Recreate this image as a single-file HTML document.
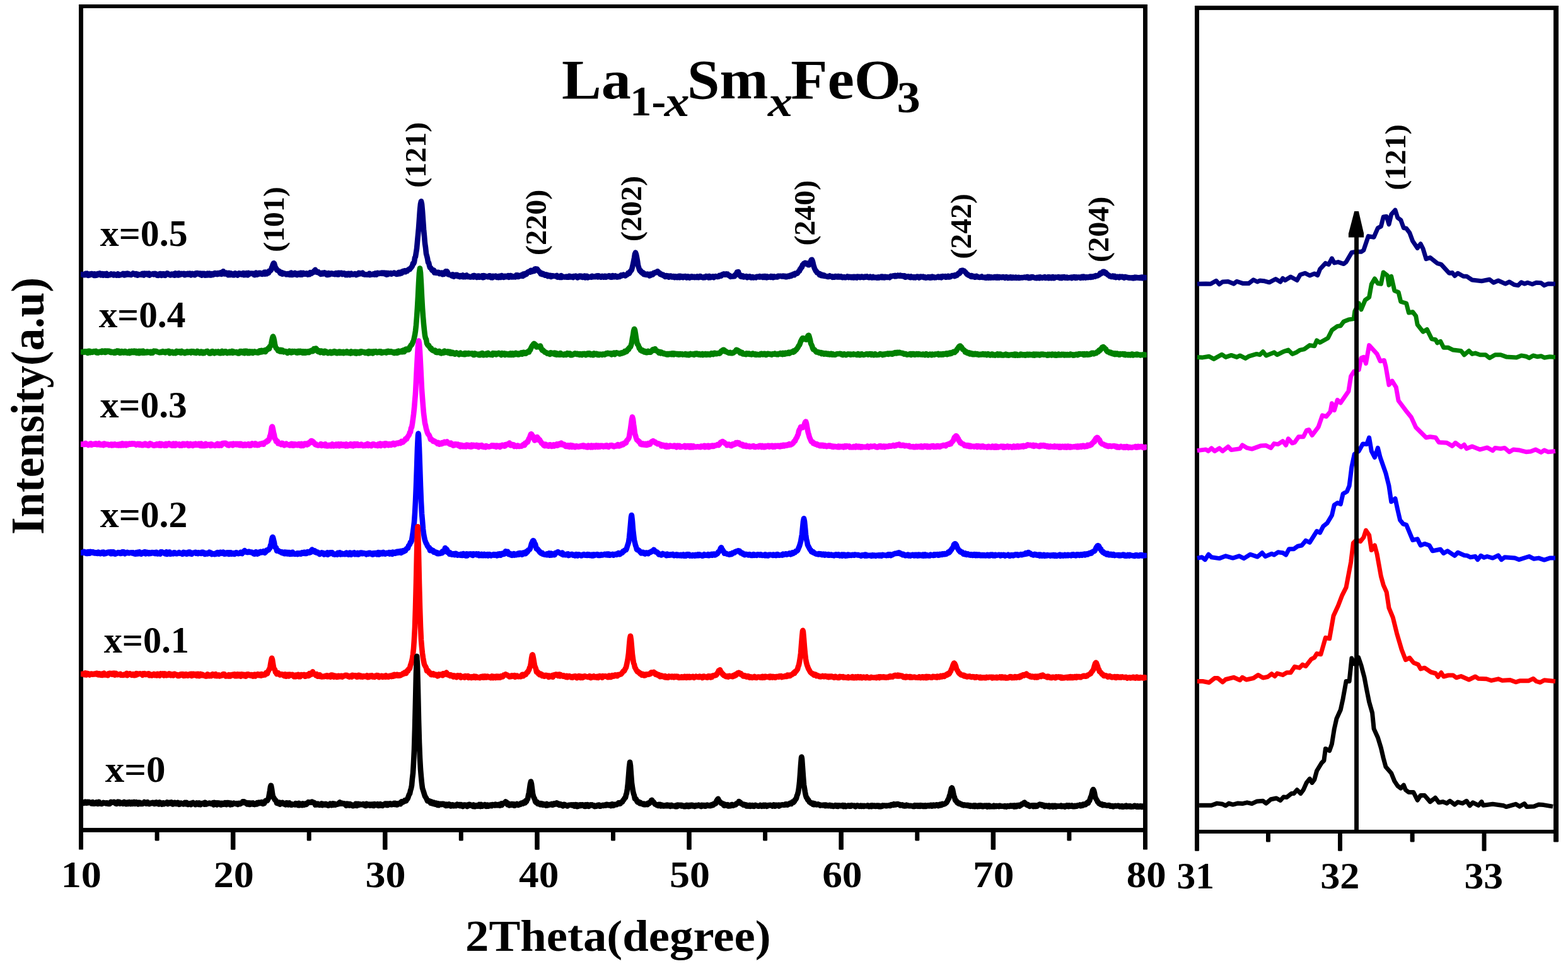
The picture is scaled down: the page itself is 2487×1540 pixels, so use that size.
<!DOCTYPE html>
<html lang="en"><head><meta charset="utf-8"><title>XRD patterns of La1-xSmxFeO3</title>
<style>html,body{margin:0;padding:0;background:#fff;overflow:hidden}svg{display:block}text{font-family:"Liberation Serif","Times New Roman",serif;fill:#000}polyline{fill:none;stroke-linejoin:round;stroke-linecap:butt}</style></head>
<body>
<svg width="2487" height="1540" viewBox="0 0 2487 1540" role="img" aria-label="XRD patterns of La1-xSmxFeO3 for x = 0 to 0.5, with enlarged (121) peak">
<rect width="2487" height="1540" fill="#fff"/>
<g id="axes"><g fill="#000">
<rect x="125" y="7" width="7" height="1340.6" rx="1.2"/>
<rect x="125" y="7" width="7" height="23"/>
<rect x="1813" y="7" width="7" height="1340.6" rx="1.2"/>
<rect x="1813" y="7" width="7" height="23"/>
<rect x="125" y="7" width="1695" height="6"/>
<rect x="125" y="1313" width="1695" height="7"/>
<rect x="245.6" y="1316" width="7" height="17.6" rx="1.5"/>
<rect x="365.9" y="1316" width="7.5" height="31.7" rx="1.5"/>
<rect x="486.7" y="1316" width="7" height="17.6" rx="1.5"/>
<rect x="607" y="1316" width="7.5" height="31.7" rx="1.5"/>
<rect x="727.8" y="1316" width="7" height="17.6" rx="1.5"/>
<rect x="848.2" y="1316" width="7.5" height="31.7" rx="1.5"/>
<rect x="969" y="1316" width="7" height="17.6" rx="1.5"/>
<rect x="1089.3" y="1316" width="7.5" height="31.7" rx="1.5"/>
<rect x="1210.1" y="1316" width="7" height="17.6" rx="1.5"/>
<rect x="1330.4" y="1316" width="7.5" height="31.7" rx="1.5"/>
<rect x="1451.3" y="1316" width="7" height="17.6" rx="1.5"/>
<rect x="1571.6" y="1316" width="7.5" height="31.7" rx="1.5"/>
<rect x="1692.4" y="1316" width="7" height="17.6" rx="1.5"/>
<rect x="1895" y="9" width="7" height="1340.7" rx="1.2"/>
<rect x="1895" y="9" width="7" height="21"/>
<rect x="2464" y="9" width="8" height="1326.4" rx="1.2"/>
<rect x="2464" y="9" width="8" height="21"/>
<rect x="1895" y="9" width="577" height="6.9"/>
<rect x="1895" y="1316" width="577" height="6"/>
<rect x="2008" y="1318" width="7" height="17.4" rx="1.5"/>
<rect x="2122" y="1318" width="7" height="31.8" rx="1.5"/>
<rect x="2236.6" y="1318" width="7" height="17.4" rx="1.5"/>
<rect x="2350.5" y="1318" width="7" height="31.8" rx="1.5"/>
</g></g>
<g id="main-curves">
<polyline points="128,435.3 129,435.3 130,435.3 131,435.3 132,436.1 133,435 134,436.3 135,435.4 136,433.8 137,435.1 138,433.6 139,436.8 140,436.9 141,434.7 142,434.6 143,436.2 144,434.2 145,434.1 146,434.1 147,434.7 148,435.7 149,436.9 150,434.2 151,436.9 152,435.4 153,436.7 154,436.4 155,434 156,435.8 157,433.9 158,433.5 159,434.9 160,436.2 161,435.5 162,434.1 163,436.5 164,436.7 165,434.3 166,435 167,435.7 168,436.7 169,433.9 170,435.4 171,436.9 172,435.6 173,436 174,436.2 175,435.2 176,434.5 177,435.5 178,435.3 179,434.7 180,436.5 181,434.7 182,435.2 183,436.2 184,436.3 185,436.6 186,435.8 187,434.3 188,436.5 189,436.7 190,436 191,436.2 192,435.2 193,435.2 194,435.5 195,433.9 196,435.8 197,436.5 198,434 199,436.1 200,435.9 201,433.8 202,433.6 203,435.5 204,434.2 205,434.5 206,435.6 207,435.7 208,436.1 209,435.4 210,434.6 211,433.4 212,433.8 213,434.1 214,435.3 215,436 216,434.1 217,434.8 218,436.7 219,434.8 220,435.9 221,435.6 222,435.7 223,435.1 224,435.3 225,435.9 226,433.9 227,436.2 228,436.5 229,433.5 230,434.1 231,434.2 232,433.7 233,433.9 234,435.7 235,433.8 236,433.6 237,436.7 238,434.8 239,435.3 240,435 241,434.6 242,435 243,434 244,435.4 245,434.2 246,433.9 247,434.1 248,434.8 249,436.7 250,435.5 251,436.9 252,434.8 253,434.3 254,435.9 255,434 256,436.9 257,434.7 258,434.3 259,434.3 260,434.4 261,436.7 262,436.9 263,435.3 264,434.1 265,433.3 266,433.6 267,434.4 268,435.6 269,435.6 270,436.4 271,436.3 272,434.6 273,435.7 274,434.9 275,435.9 276,434 277,436.8 278,433.4 279,435.5 280,434.6 281,436.2 282,433.8 283,436.5 284,433.3 285,435.9 286,435.8 287,435.1 288,433.9 289,434.6 290,434.9 291,434 292,433.8 293,436.3 294,435.2 295,434.2 296,435.5 297,435.5 298,433.7 299,435.4 300,435.4 301,433.6 302,434.3 303,436.4 304,435.3 305,434 306,434.7 307,434.9 308,435.8 309,436.3 310,433.5 311,433.4 312,434.8 313,433.3 314,433.8 315,433.6 316,433.5 317,435.5 318,433.6 319,435.2 320,436.7 321,433.7 322,435.9 323,435.3 324,433.8 325,436.6 326,435.8 327,434.5 328,436.4 329,433.5 330,436.2 331,436.2 332,433.6 333,436.4 334,436 335,436.4 336,434.1 337,435.8 338,435.9 339,434.3 340,433.2 341,433.1 342,434.8 343,434.9 344,433.4 345,435.1 346,433 347,434.4 348,434.4 349,433.1 350,432.2 351,434.9 352,434.1 353,432.6 354,430.3 355,432.3 356,434.5 357,434.4 358,434.5 359,432.5 360,434.6 361,433.5 362,436.3 363,432.9 364,433.7 365,436.1 366,433.4 367,434 368,434.1 369,436.2 370,435.5 371,436.4 372,433.7 373,433.3 374,434.2 375,435.8 376,435.2 377,436.4 378,435.6 379,433.3 380,434.1 381,433.7 382,434 383,435.4 384,434.6 385,435.7 386,433 387,436.2 388,433.5 389,435.6 390,436 391,433.1 392,434.9 393,436.4 394,432.9 395,434.7 396,434.4 397,434.2 398,433.5 399,433.5 400,433.8 401,433.6 402,433.8 403,436 404,436.1 405,433.6 406,432.7 407,433.6 408,435.7 409,433.2 410,434.9 411,432.8 412,433.6 413,432.9 414,434.5 415,433.5 416,434.9 417,433.8 418,433.3 419,431.8 420,434.6 421,431.5 422,432.9 423,434.4 424,433.4 425,431.4 426,432.9 427,429.9 428,430.2 429,429.1 430,428.1 431,424.4 432,422.1 433,419.1 434,417.4 434.2,417.3 435,418.1 436,421.5 437,424.5 438,425.6 439,428.2 440,428 441,429.4 442,429.6 443,430.2 444,432.5 445,433.7 446,434 447,432 448,434.8 449,432.8 450,434.2 451,434 452,433.7 453,434.5 454,435.3 455,434.7 456,434.1 457,435.4 458,435 459,433.7 460,435.9 461,433.9 462,432.6 463,436 464,435.9 465,434.5 466,435.3 467,435.1 468,432.9 469,435.5 470,434.9 471,436.1 472,434.3 473,433.6 474,435.4 475,434.6 476,435.7 477,432.7 478,435 479,435.8 480,433.2 481,432.8 482,434.2 483,434.8 484,434.7 485,434.2 486,433.5 487,434.7 488,435.6 489,433.8 490,433.2 491,435.1 492,432 493,433.1 494,433.7 495,433 496,432.3 497,431.4 498,430 499,431.4 500,427.9 501,429.8 502,430.4 503,432 504,431.1 505,431.3 506,432.6 507,433.6 508,433.5 509,434.9 510,433.6 511,432.8 512,434.5 513,433.7 514,432.4 515,433.8 516,432.8 517,434.8 518,435.8 519,435.2 520,436 521,433.1 522,435.6 523,435.4 524,433.5 525,434.4 526,433.3 527,433.8 528,434.6 529,434.1 530,434.1 531,435.3 532,435.1 533,433.1 534,434.8 535,435.5 536,432.8 537,435.4 538,432.8 539,434.3 540,434.1 541,432.8 542,433 543,435.1 544,433.7 545,434.6 546,433.3 547,434.9 548,436.1 549,435.4 550,434 551,436.2 552,434 553,433.7 554,434.2 555,436.2 556,434.1 557,433.7 558,434.6 559,435 560,435.4 561,435.2 562,435.1 563,434.1 564,434.2 565,436.2 566,434.4 567,435.4 568,433.9 569,432.7 570,434 571,434.5 572,434 573,433.3 574,433.2 575,432.8 576,435.1 577,434.5 578,435.5 579,435.6 580,435.2 581,435.4 582,435.8 583,435.8 584,435.4 585,435.7 586,433.7 587,436 588,435.6 589,435.3 590,435.5 591,435.1 592,434.4 593,434.2 594,435.7 595,433.4 596,434.6 597,435.6 598,433.2 599,432.8 600,433.3 601,433.8 602,434 603,433.1 604,433.1 605,432.7 606,433.9 607,432.7 608,433.4 609,432.8 610,434.4 611,434.4 612,432.9 613,435.7 614,433.1 615,435.3 616,433.1 617,434 618,434.1 619,434 620,433.1 621,434.7 622,434 623,433.7 624,433.4 625,432.6 626,433 627,434.1 628,433.9 629,434.9 630,433.8 631,434.7 632,432.2 633,431.9 634,434.3 635,432.1 636,432.5 637,433.4 638,430.5 639,430.2 640,431.2 641,430 642,429.3 643,431.3 644,430.3 645,429.6 646,429.8 647,428 648,427.7 649,426.8 650,427.1 651,425.4 652,424.7 653,423.2 654,421.6 655,417.8 656,418.1 657,415.6 658,409 659,407 660,400.8 661,394.5 662,383.3 663,372.7 664,361.9 665,347.9 666,333.2 667,323.5 668,319.3 669,323.7 670,334.6 671,348.8 672,363.4 673,374.1 674,386 675,392.6 676,402.3 677,405.9 678,409.9 679,416.1 680,416.6 681,421.2 682,424.4 683,424.6 684,426.1 685,428.1 686,429.1 687,429.2 688,428.4 689,432.5 690,432.1 691,431.8 692,433 693,431.9 694,432.2 695,431.8 696,433.4 697,434.2 698,432.7 699,433.2 700,434 701,432.5 702,435.3 703,432.7 704,435 705,433.3 706,431.7 707,430.2 708,432 709,430.4 710,432.2 711,435.4 712,435.6 713,435.8 714,435.9 715,436.4 716,437.1 717,437.8 718,435.3 719,438.3 720,438.7 721,437.4 722,436.6 723,435.7 724,436.8 725,435.8 726,438.2 727,437.9 728,438.5 729,439 730,437.1 731,438.7 732,438.7 733,438.1 734,436.4 735,439.3 736,438.2 737,437.9 738,439.3 739,436.8 740,436.5 741,438.8 742,439 743,438.4 744,438.5 745,439.3 746,439.5 747,438.9 748,439.2 749,438.4 750,437.3 751,439.5 752,436.9 753,437.3 754,438.7 755,438.1 756,439.9 757,437.9 758,438.5 759,437.5 760,439.8 761,438.1 762,439.4 763,439.4 764,438.5 765,437.3 766,440.3 767,437.1 768,439.8 769,437.5 770,438.4 771,438.5 772,438.4 773,439 774,439.3 775,439.3 776,437.2 777,438.2 778,437.6 779,440.3 780,438.8 781,440.4 782,437.7 783,439.3 784,438.7 785,438.1 786,437.6 787,439 788,440 789,438.6 790,438.7 791,440.2 792,437.8 793,438.1 794,439.9 795,437.2 796,437 797,439.2 798,438.5 799,439.9 800,438.8 801,437.8 802,439.1 803,438.3 804,438.9 805,437.5 806,437 807,439.8 808,439.6 809,437.2 810,437 811,439.4 812,439 813,438.1 814,439.4 815,439.2 816,439.2 817,439.4 818,439 819,436.2 820,438.3 821,436.4 822,438.9 823,438.6 824,437.7 825,437 826,437.7 827,436.2 828,437.3 829,438 830,434.6 831,435.5 832,436.4 833,433.9 834,434 835,434.9 836,433.4 837,431.7 838,431.4 839,430.6 840,430.4 841,431.6 842,428.9 843,429 844,430.8 845,429.3 846,429.6 847,429.9 848,426.8 849,426.4 850,426.5 851,426.5 851.5,426.7 852,426.8 853,428.1 854,430 855,430.5 856,431.2 857,433 858,434.5 859,433.1 860,435.2 861,433.7 862,435 863,435.8 864,436.5 865,435.4 866,436.3 867,435.7 868,436.6 869,438.2 870,436.5 871,436.9 872,437.9 873,436.7 874,439 875,437.3 876,437.3 877,437.4 878,437.9 879,438 880,437.9 881,438 882,437.3 883,437 884,439.6 885,439.5 886,439.3 887,438.5 888,440 889,437.4 890,437.2 891,440 892,438.8 893,438.8 894,438.7 895,439.4 896,439.2 897,439.5 898,438.8 899,439.7 900,439.3 901,439.8 902,439.7 903,437.7 904,438.7 905,439.4 906,439.5 907,438.7 908,439.2 909,440.1 910,438 911,438.2 912,438.3 913,437.8 914,439.2 915,439.2 916,440.4 917,439 918,438.1 919,437.7 920,439.3 921,437.9 922,437.8 923,438.9 924,439.9 925,438.3 926,438.3 927,437.6 928,440.4 929,439.9 930,439.1 931,437.7 932,440.4 933,439.3 934,439.6 935,439.5 936,439.1 937,438.7 938,439.8 939,437.7 940,438.3 941,439.1 942,438.8 943,439 944,439.1 945,437.8 946,437.9 947,437.4 948,439.4 949,439.3 950,437.5 951,438 952,438.4 953,439.8 954,439.6 955,437.9 956,438.7 957,439.1 958,439.7 959,437.9 960,437.9 961,439.6 962,439.3 963,438.1 964,438 965,438.5 966,437.3 967,439 968,439.5 969,437.7 970,439.7 971,439.5 972,437.1 973,439.2 974,439.2 975,438.6 976,437.5 977,438.2 978,439.5 979,438.4 980,439.4 981,438.8 982,438.1 983,438.7 984,437.5 985,436.4 986,437.5 987,436.3 988,436.4 989,435.5 990,436.6 991,437 992,437.4 993,436.3 994,435.8 995,435.4 996,433.3 997,433.7 998,433.7 999,431.9 1000,429.9 1001,429.2 1002,427.6 1003,423.4 1004,419.1 1005,414.5 1006,409.2 1007,402.9 1008,400.6 1009,403.4 1010,408.2 1011,413.7 1012,420.7 1013,424 1014,427.4 1015,429.6 1016,429.1 1017,431.9 1018,431.6 1019,433.5 1020,432.4 1021,435 1022,433.8 1023,435.5 1024,435.2 1025,436 1026,435.5 1027,434.6 1028,435.4 1029,435.3 1030,437.5 1031,434.7 1032,436.6 1033,434.6 1034,434.9 1035,435.6 1036,434.8 1037,432.7 1038,432.8 1039,432.1 1040,432.5 1041,431.7 1042,431.4 1043,430.4 1044,432.2 1045,433 1046,432.9 1047,434.9 1048,434.3 1049,435.6 1050,435.3 1051,436.4 1052,435.9 1053,437.5 1054,437.8 1055,439 1056,437.4 1057,437 1058,437.9 1059,438.9 1060,437.6 1061,439.7 1062,437.8 1063,439 1064,437.5 1065,438.9 1066,439.5 1067,438.8 1068,438.2 1069,439 1070,440.2 1071,438.2 1072,439.6 1073,439.1 1074,440.3 1075,438.4 1076,440 1077,437.7 1078,440.3 1079,437.8 1080,438.6 1081,438.3 1082,438.5 1083,440.2 1084,438.3 1085,439.4 1086,439.4 1087,438 1088,439.9 1089,440.4 1090,439.2 1091,438.4 1092,438.7 1093,439.4 1094,440.5 1095,439.9 1096,438.6 1097,438.3 1098,439.9 1099,439.2 1100,438.8 1101,440.1 1102,438.7 1103,439.9 1104,440 1105,440 1106,438.6 1107,439.2 1108,440.3 1109,438.7 1110,438.1 1111,438.1 1112,439.6 1113,439.2 1114,439.8 1115,440.4 1116,439.4 1117,439 1118,440.2 1119,439.7 1120,438 1121,438.6 1122,439.4 1123,438.4 1124,440.4 1125,437.9 1126,440.1 1127,440.2 1128,438.7 1129,438.7 1130,439.2 1131,438.3 1132,440.2 1133,439.2 1134,438.8 1135,438.1 1136,438.8 1137,438.8 1138,439 1139,438.8 1140,438.7 1141,436.8 1142,437.5 1143,437 1144,437.6 1145,435.7 1146,435.4 1147,434.8 1148,434.4 1149,435.6 1150,435.3 1151,435.7 1152,434.4 1153,435.1 1154,434.7 1155,436.6 1156,436.6 1157,436.7 1158,438.3 1159,438.8 1160,438.1 1161,438.4 1162,438.2 1163,438.5 1164,437.7 1165,438.3 1166,435.8 1167,436 1168,434 1169,431.6 1170,431.5 1171,431 1172,435.3 1173,436.6 1174,436 1175,438.6 1176,437.6 1177,438.9 1178,437.4 1179,439.4 1180,439.4 1181,438.6 1182,438.6 1183,439 1184,438.1 1185,440.3 1186,439.1 1187,439.4 1188,439.3 1189,438.3 1190,439.7 1191,440.3 1192,440.4 1193,439.1 1194,439.1 1195,440.4 1196,440 1197,439.7 1198,439.7 1199,440.2 1200,438.8 1201,438.9 1202,438.8 1203,438.5 1204,439.5 1205,438 1206,439.5 1207,438.7 1208,439 1209,438.4 1210,440 1211,438.5 1212,438.1 1213,439.9 1214,438.1 1215,438.7 1216,440.4 1217,438.4 1218,439.2 1219,439.6 1220,439.3 1221,439.2 1222,439.7 1223,438 1224,438.6 1225,438.3 1226,440.2 1227,440 1228,438.3 1229,439.1 1230,439.5 1231,439 1232,439.5 1233,439.5 1234,437.7 1235,437.8 1236,438.1 1237,438 1238,437.7 1239,438.1 1240,438.4 1241,438.3 1242,437.6 1243,438.5 1244,438.6 1245,437.7 1246,439.2 1247,438.4 1248,439 1249,437.8 1250,438.3 1251,437.8 1252,438.3 1253,436.7 1254,436.8 1255,437.8 1256,435.9 1257,436.1 1258,435.4 1259,434.5 1260,436.3 1261,433.6 1262,434.3 1263,433.7 1264,433.8 1265,433.2 1266,431.7 1267,430.1 1268,429.8 1269,426.8 1270,426.3 1271,423.9 1272,423.6 1273,419.9 1274,419.7 1275,417.8 1276,418.7 1277,416.8 1278,418.4 1279,417.4 1280,418.6 1281,419.4 1282,420.3 1283,420.3 1284,418.5 1285,415.8 1286,414 1287,412 1287.7,411.9 1288,412.2 1289,415 1290,419.3 1291,423.1 1292,425.8 1293,427.8 1294,430 1295,430.2 1296,432.8 1297,432.7 1298,433.5 1299,433.5 1300,436.1 1301,435.4 1302,434.8 1303,437.3 1304,437.2 1305,437.5 1306,436.2 1307,436.6 1308,438 1309,437.7 1310,438.2 1311,438.3 1312,438.4 1313,439 1314,439 1315,438.6 1316,437.6 1317,438.5 1318,438.5 1319,438.4 1320,439.6 1321,438.8 1322,439.6 1323,439.7 1324,439.5 1325,438 1326,439.2 1327,438.7 1328,439.5 1329,438.2 1330,438 1331,439.5 1332,439.5 1333,439.5 1334,438.3 1335,439.6 1336,440.1 1337,440.1 1338,439.4 1339,439 1340,440.2 1341,440.3 1342,440 1343,439.3 1344,438.5 1345,439.2 1346,440 1347,438.8 1348,439.1 1349,439.1 1350,440.1 1351,439.1 1352,439.6 1353,439 1354,440.5 1355,438.8 1356,440.3 1357,439.3 1358,440 1359,440.5 1360,438.6 1361,438.9 1362,438.9 1363,438.9 1364,440.1 1365,439.1 1366,439.7 1367,438.8 1368,439.6 1369,439.1 1370,440.1 1371,439.3 1372,438.7 1373,439.6 1374,439 1375,438.5 1376,439.5 1377,439.9 1378,440.2 1379,440.1 1380,438.6 1381,439.4 1382,439.2 1383,440.4 1384,440 1385,439 1386,439.8 1387,440.3 1388,440 1389,439.9 1390,439.8 1391,440.7 1392,440.5 1393,439.4 1394,440.6 1395,440.4 1396,439.3 1397,439.4 1398,438.5 1399,440.3 1400,438.6 1401,439.1 1402,440.4 1403,440.4 1404,438.8 1405,439.5 1406,439 1407,439.8 1408,439.3 1409,439.6 1410,439.6 1411,440.2 1412,438.7 1413,437.9 1414,438.4 1415,437.7 1416,437.7 1417,437.4 1418,437.7 1419,438.3 1420,437 1421,437.5 1422,438.1 1423,437.3 1424,436.7 1425,437.4 1426,437.7 1427,437.8 1428,436.8 1429,437.7 1430,437.9 1431,437.3 1432,437.2 1433,438.5 1434,437.3 1435,437.5 1436,439.8 1437,438.9 1438,438.7 1439,439 1440,438.4 1441,438.4 1442,439 1443,439.8 1444,440.1 1445,438.4 1446,439.1 1447,440 1448,439.5 1449,440.4 1450,439.3 1451,439.9 1452,440.4 1453,439.6 1454,438.7 1455,438.6 1456,438.8 1457,439.8 1458,440.6 1459,438.9 1460,439.5 1461,438.6 1462,439.1 1463,439.1 1464,438.6 1465,440.1 1466,440.3 1467,439.3 1468,440.6 1469,440.6 1470,440.4 1471,439.9 1472,439.2 1473,440.3 1474,439.3 1475,440.7 1476,440.5 1477,439.1 1478,440.5 1479,438.7 1480,439.1 1481,439.3 1482,440.4 1483,440.1 1484,439.9 1485,440.1 1486,439.5 1487,439 1488,438.7 1489,440 1490,439.2 1491,439.2 1492,438.7 1493,440.4 1494,438.6 1495,438.2 1496,438.9 1497,438.6 1498,438.7 1499,438.2 1500,439.8 1501,438.9 1502,439.5 1503,439.2 1504,437.8 1505,439.5 1506,438.2 1507,439.2 1508,438.2 1509,437.9 1510,437.1 1511,437.1 1512,437 1513,437.6 1514,438.1 1515,436.1 1516,437.5 1517,435.9 1518,436.6 1519,434.7 1520,433.7 1521,432.9 1522,433.5 1523,432.2 1524,429.3 1525,429.3 1526,428.8 1526.5,428.7 1527,428.8 1528,429.5 1529,429.5 1530,430.6 1531,431.5 1532,432.6 1533,434.1 1534,435.1 1535,435.1 1536,436.6 1537,436.8 1538,437.1 1539,437.9 1540,438.7 1541,437 1542,439 1543,437.7 1544,438.7 1545,438.3 1546,439.6 1547,439.7 1548,438 1549,437.9 1550,439.1 1551,438.8 1552,439.6 1553,439.6 1554,440 1555,439.7 1556,439.7 1557,438.4 1558,439.4 1559,440 1560,439.8 1561,440.1 1562,439.7 1563,440.6 1564,440 1565,440.6 1566,440.5 1567,438.7 1568,440.6 1569,438.9 1570,440 1571,440.6 1572,439.3 1573,440.1 1574,439.9 1575,440.5 1576,440.5 1577,439.2 1578,439 1579,440.5 1580,439 1581,440.7 1582,438.8 1583,440 1584,440.6 1585,439 1586,439.8 1587,440 1588,439.6 1589,440.1 1590,439.3 1591,439 1592,439.3 1593,440.5 1594,440.8 1595,439.5 1596,439 1597,439.7 1598,440.3 1599,441.1 1600,439.7 1601,439.9 1602,440.7 1603,439.2 1604,441 1605,441 1606,440.8 1607,439.8 1608,440.6 1609,440.4 1610,440.7 1611,439.6 1612,440.9 1613,440.6 1614,440 1615,440.7 1616,439.8 1617,440.9 1618,440.8 1619,440.4 1620,440.3 1621,440 1622,440.4 1623,440.1 1624,439.9 1625,439.5 1626,440.2 1627,440.2 1628,440 1629,439 1630,439.1 1631,441 1632,441.1 1633,439.7 1634,440.9 1635,440.6 1636,439.3 1637,439.9 1638,439.2 1639,439.8 1640,440.4 1641,440.6 1642,440.9 1643,440.4 1644,441.2 1645,439.9 1646,440.3 1647,440.9 1648,439.6 1649,441.2 1650,439.3 1651,440.5 1652,440.2 1653,440.8 1654,440 1655,439.7 1656,440.2 1657,439.1 1658,441 1659,440.8 1660,440.7 1661,440.1 1662,439.4 1663,441.2 1664,439.2 1665,440.9 1666,440.4 1667,439.8 1668,441.1 1669,440.4 1670,439.1 1671,441.1 1672,441.1 1673,440.5 1674,439.6 1675,439.6 1676,439.8 1677,439.5 1678,439.9 1679,439.2 1680,440.4 1681,440.9 1682,439.7 1683,439.5 1684,441.1 1685,439.3 1686,439.9 1687,440 1688,439.1 1689,440.6 1690,440.4 1691,440.7 1692,439.6 1693,440.9 1694,440.4 1695,440.6 1696,440.1 1697,440.4 1698,440 1699,439.7 1700,441.2 1701,439.5 1702,439.5 1703,439.3 1704,439 1705,439.5 1706,441 1707,439.4 1708,440.7 1709,440.2 1710,439.6 1711,439.6 1712,440.1 1713,439.6 1714,441 1715,440.1 1716,438.8 1717,439 1718,440.6 1719,438.7 1720,438.9 1721,439.5 1722,440.6 1723,439.2 1724,439.2 1725,440.1 1726,439.8 1727,440 1728,438.9 1729,438.6 1730,439.9 1731,438.5 1732,439.4 1733,439.5 1734,438.3 1735,438.6 1736,437.8 1737,438.4 1738,437 1739,437.3 1740,437.5 1741,437.3 1742,436.6 1743,436.1 1744,435.5 1745,433.4 1746,434.2 1747,433.7 1748,431.9 1749,431.2 1750,430.7 1751,430.8 1752,431.4 1753,433.5 1754,432.4 1755,434.2 1756,434.7 1757,435.8 1758,436.2 1759,436.8 1760,438.1 1761,438.1 1762,438.4 1763,439 1764,438.6 1765,437.6 1766,438.8 1767,439.3 1768,437.9 1769,438.6 1770,440 1771,439.4 1772,438.7 1773,439 1774,439.5 1775,440.4 1776,438.6 1777,439.6 1778,439 1779,438.9 1780,438.7 1781,439.8 1782,439.6 1783,440.6 1784,439 1785,439.1 1786,439.4 1787,439.9 1788,439.8 1789,440.2 1790,440.6 1791,440.8 1792,440.3 1793,440.6 1794,440.8 1795,440.4 1796,441.1 1797,440.4 1798,441.2 1799,440.1 1800,439.6 1801,441 1802,440 1803,439.9 1804,440.3 1805,440.6 1806,440.2 1807,440.8 1808,440.1 1809,441 1810,439.7 1811,439.6 1812,441.3 1813,439.9 1814,439.8 1815,440.2 1816,440.3 1817,440.3 1818,440.3 1819,440.3" stroke="#000080" stroke-width="8.6"/>
<polyline points="128,558.2 129,558.2 130,558.2 131,558.2 132,558.1 133,558.8 134,557.2 135,557.2 136,557.4 137,558.9 138,557.2 139,559.9 140,556.7 141,557.1 142,556.7 143,559.2 144,557.7 145,558.1 146,557.6 147,558.7 148,557.9 149,557.2 150,558 151,557.5 152,556.8 153,559.4 154,558.9 155,558.8 156,559.6 157,557.9 158,557.8 159,558 160,557.9 161,558.9 162,556.5 163,558.1 164,558.4 165,557.7 166,556.5 167,559 168,556.5 169,558.5 170,557 171,556.6 172,557.1 173,556.7 174,557 175,558.9 176,559.1 177,557.8 178,558.8 179,558.2 180,558.3 181,559.7 182,557.6 183,559.6 184,559 185,559 186,556.5 187,556.8 188,556.6 189,557.8 190,559.9 191,559.7 192,559.5 193,557 194,559.1 195,559.3 196,559.4 197,559.4 198,557 199,557.2 200,559.4 201,559.2 202,559.8 203,558.2 204,559.8 205,557.1 206,560 207,559.7 208,557.8 209,556.8 210,558.5 211,559 212,557.8 213,556.8 214,557.6 215,559.5 216,556.9 217,560 218,557.5 219,557.3 220,557 221,560.1 222,559.8 223,557.7 224,556.9 225,558.9 226,559.8 227,556.6 228,558.9 229,559.7 230,558.3 231,558.7 232,559.5 233,557.5 234,557.6 235,559 236,558.6 237,558.5 238,557.8 239,560 240,557.7 241,559.1 242,559.8 243,558.1 244,556.8 245,557.4 246,556.9 247,557.2 248,557.1 249,557.9 250,558 251,558.3 252,559 253,559.1 254,559.1 255,558 256,559 257,558.6 258,557.1 259,558.6 260,557.8 261,559.1 262,559.3 263,557.5 264,558.2 265,558.3 266,557.7 267,556.8 268,556.9 269,560.3 270,559.4 271,558.3 272,559.1 273,557.7 274,559.3 275,560.1 276,559.5 277,558.4 278,560.2 279,560 280,556.9 281,558.2 282,558.3 283,557.7 284,558.9 285,557.2 286,559.4 287,559.8 288,556.9 289,559.2 290,557.7 291,559 292,559.2 293,560.2 294,559.6 295,558 296,559.4 297,557.3 298,559.3 299,558.2 300,557.7 301,557.6 302,557.5 303,559.6 304,557.1 305,557.6 306,557.4 307,557.3 308,559.4 309,558.9 310,559.2 311,560 312,558.4 313,556.9 314,557.4 315,558.6 316,559.3 317,560.1 318,558.6 319,557.6 320,558.9 321,560.1 322,558 323,560.1 324,560 325,558.9 326,558.5 327,557.3 328,557.2 329,556.9 330,559 331,559.4 332,560.4 333,559 334,560.4 335,558.2 336,557.3 337,557 338,557.8 339,558.7 340,560.4 341,557.9 342,557.7 343,559.4 344,558.2 345,558.8 346,557.4 347,559.9 348,560.1 349,559.5 350,560.2 351,558 352,556.9 353,557.9 354,560 355,558.5 356,557.5 357,557.4 358,557.4 359,558.4 360,560.1 361,560 362,559.5 363,559.5 364,557.5 365,559.6 366,557.6 367,558.7 368,556.9 369,560 370,557.3 371,558.9 372,559.2 373,559.1 374,559.3 375,558.1 376,559.6 377,560.2 378,559 379,560.3 380,559.8 381,557 382,559.2 383,557.1 384,559.1 385,558.1 386,559.8 387,556.9 388,560.1 389,556.9 390,556.9 391,556.7 392,557.1 393,560.2 394,559.7 395,560 396,557.3 397,559.1 398,559.5 399,559.2 400,557.5 401,560 402,559.1 403,559 404,557.5 405,557.9 406,559.1 407,558.2 408,558.1 409,559.6 410,557.7 411,559.2 412,556.2 413,557.9 414,558.4 415,555.8 416,558.1 417,556.5 418,557.6 419,557.4 420,555.4 421,558 422,555.1 423,554.3 424,554.9 425,552.8 426,552.1 427,553.3 428,549.4 429,548.8 430,546.8 431,540.9 432,536.3 433,533.6 434,535.8 435,540.3 436,546.5 437,550 438,552.1 439,553.2 440,553.6 441,556.1 442,556 443,556.6 444,557.5 445,554.8 446,557.6 447,557.2 448,555.4 449,556.4 450,558.2 451,557.7 452,557.9 453,557 454,558.1 455,559.3 456,559.8 457,558.3 458,559 459,556.7 460,556.9 461,558.5 462,559.5 463,557 464,557.1 465,558.4 466,557.7 467,557.1 468,557.2 469,558.2 470,559.5 471,557.3 472,559.6 473,556.9 474,557.6 475,559.1 476,556.7 477,557.8 478,557.2 479,557.5 480,559.8 481,557.2 482,559.2 483,559.8 484,557.4 485,559.6 486,557.5 487,559.1 488,558.3 489,557.4 490,559.1 491,558.3 492,556.7 493,557.3 494,555.9 495,555.4 496,557.1 497,556.6 498,553.1 499,555.4 500,554.7 501,552.5 502,553.4 503,555.2 504,557.4 505,557.9 506,556.1 507,557.1 508,559.1 509,556.7 510,556.5 511,557.8 512,558.8 513,559.6 514,559.7 515,556.7 516,557.3 517,557.2 518,558.9 519,558.3 520,560.2 521,559.1 522,559.1 523,559.4 524,557.7 525,560.2 526,560.1 527,559.9 528,559.8 529,557.6 530,557.2 531,558.3 532,559.6 533,557.7 534,560.2 535,560.1 536,559.6 537,558.8 538,557.6 539,560 540,557.7 541,558.9 542,559.8 543,559.4 544,557.9 545,560.2 546,558.2 547,558.6 548,558.7 549,559.6 550,557.2 551,559.4 552,558.9 553,560 554,558.4 555,559.2 556,560.6 557,557.3 558,559.9 559,558.8 560,558.2 561,558.1 562,557.9 563,560.1 564,557.8 565,560.6 566,559 567,558.1 568,559.9 569,559.2 570,560.3 571,557.6 572,559.6 573,557.2 574,557.7 575,558.6 576,558.2 577,558.1 578,559.1 579,559.7 580,558.5 581,558.9 582,559.9 583,557.8 584,560.6 585,557.1 586,558.3 587,560 588,557.8 589,558.2 590,557.6 591,560.5 592,560.1 593,557.2 594,558.9 595,557.5 596,557 597,557.7 598,559.4 599,558.8 600,557.9 601,559 602,557.2 603,558.1 604,557.2 605,559.9 606,558.3 607,559.5 608,558.1 609,558.4 610,558.9 611,557.8 612,558.8 613,559.6 614,557.1 615,557.5 616,556.9 617,558.6 618,557.2 619,558.6 620,557.3 621,558.6 622,557.7 623,559.3 624,559.5 625,560 626,558.2 627,559.6 628,559.5 629,557.5 630,559.8 631,559.6 632,556.6 633,558.6 634,558.3 635,557.9 636,558.1 637,556.4 638,558.2 639,557.6 640,555.4 641,558 642,556.8 643,554.1 644,553.6 645,553.6 646,554.9 647,554.5 648,554.6 649,553.6 650,550.2 651,549 652,547.3 653,546.7 654,544.8 655,542.1 656,540.6 657,535.8 658,531.3 659,524.8 660,515.7 661,503.2 662,487.8 663,469.8 664,449.4 665,432.6 666,425.5 667,432.6 668,449.2 669,470.1 670,488.2 671,502 672,513.6 673,523.7 674,532.2 675,536.5 676,538.2 677,544.5 678,546.4 679,548 680,547.6 681,550.1 682,551.3 683,552.9 684,552.4 685,555 686,555.5 687,556.2 688,556.1 689,556.8 690,555.6 691,558.5 692,558.9 693,559.1 694,559 695,557.3 696,557.7 697,556.9 698,559.7 699,560.1 700,560.4 701,559.1 702,559.8 703,559.8 704,557 705,556.5 706,559 707,559 708,558 709,557.9 710,557.5 711,559.7 712,558.2 713,557.7 714,560.7 715,558.3 716,560.8 717,560.7 718,558.9 719,560.2 720,559.7 721,561.7 722,561.6 723,560.1 724,559.5 725,560.3 726,560.6 727,561.3 728,562.5 729,560.3 730,559.8 731,561.5 732,560.8 733,561.9 734,561.7 735,561.3 736,562.3 737,560.1 738,562.2 739,560.1 740,561.2 741,561.5 742,561.5 743,560 744,561.2 745,560.6 746,560.6 747,561.1 748,561.1 749,560.4 750,562.1 751,563 752,563 753,560.4 754,560.6 755,561.2 756,561.8 757,562.2 758,561.8 759,561.5 760,563.3 761,563.2 762,562.6 763,560.7 764,562.5 765,560 766,563.1 767,562.3 768,563.1 769,561.3 770,562.3 771,560.7 772,563.1 773,560.5 774,559.9 775,560.9 776,562.2 777,561.7 778,562.7 779,562.2 780,562.6 781,563.1 782,560.1 783,560.3 784,560.9 785,560.4 786,561.8 787,562.3 788,560.5 789,561.6 790,560.7 791,559.9 792,560.8 793,560.8 794,562.2 795,563.1 796,560.1 797,561.5 798,561.4 799,562 800,560.3 801,563 802,560.7 803,561.8 804,561.2 805,561.7 806,562.7 807,561.8 808,560.9 809,562.9 810,560.3 811,562.9 812,561.9 813,560.4 814,562.9 815,562.5 816,561.2 817,562.2 818,559.8 819,560.3 820,560.9 821,562.4 822,560.5 823,562.5 824,561 825,561.4 826,561.5 827,559.3 828,561.7 829,560.5 830,558.8 831,558.7 832,560.7 833,559.7 834,560.6 835,560.1 836,558.7 837,557.8 838,558.4 839,558.5 840,555.4 841,555.1 842,552.5 843,550.6 844,548.6 845,547.6 846,546 847,544.9 848,545.5 849,547.4 850,547.4 851,550.5 852,549.3 853,549.5 854,549.6 855,550.5 856,548.9 857,548.6 858,551.3 859,553.7 860,555.6 861,555.1 862,556.5 863,556.9 864,558.6 865,558.6 866,558.7 867,559.7 868,560.7 869,560.5 870,561 871,560.1 872,561.9 873,559.4 874,559.4 875,559.6 876,560.9 877,560.4 878,560.1 879,559.6 880,562.1 881,559.8 882,561.7 883,562.8 884,560.6 885,561.7 886,562.6 887,561.2 888,562.8 889,560 890,561.7 891,562.4 892,561.5 893,562.6 894,563.1 895,562.7 896,561.5 897,562.2 898,562.8 899,562 900,560.2 901,560.7 902,562 903,560.5 904,560.6 905,563.2 906,561.7 907,563.2 908,562.8 909,562.6 910,561.5 911,560.9 912,560.4 913,560.9 914,561.7 915,562.1 916,560.7 917,561.6 918,561.3 919,562.9 920,561.1 921,562.8 922,562.2 923,563.1 924,561.1 925,561.1 926,561.7 927,561 928,562.1 929,563.2 930,561.9 931,560.8 932,560.4 933,562.2 934,561.6 935,560.2 936,561.3 937,562.7 938,562.1 939,561.2 940,563.1 941,563.2 942,560.3 943,560.9 944,562 945,561.2 946,560.8 947,562.6 948,562.9 949,561.6 950,563.1 951,561.9 952,562 953,561.7 954,562.5 955,562.8 956,561.6 957,561.5 958,562.4 959,562.6 960,562 961,560.5 962,560.3 963,561 964,560 965,560.9 966,560.9 967,560.2 968,560.2 969,561.7 970,562.4 971,560.3 972,561.8 973,560.8 974,559.5 975,562.2 976,559.7 977,560.7 978,559.3 979,560 980,560.1 981,560.1 982,560.4 983,561.5 984,560.3 985,559.7 986,560.6 987,559.3 988,559.8 989,558.7 990,559.3 991,557 992,556.8 993,557.9 994,557.4 995,555.6 996,553.8 997,554.4 998,551.7 999,550.9 1000,550 1001,547.2 1002,543.6 1003,536.6 1004,532 1005,525 1006,521.9 1006.2,521.7 1007,523.6 1008,529.4 1009,536.3 1010,541.5 1011,546.1 1012,546.7 1013,549 1014,552.6 1015,552.3 1016,555.3 1017,555.1 1018,556.7 1019,555.4 1020,557.2 1021,558 1022,558.4 1023,557 1024,557.4 1025,559.2 1026,559.1 1027,558.3 1028,556.8 1029,558.7 1030,558.6 1031,558 1032,558.5 1033,557 1034,556.9 1035,554.6 1036,554.1 1037,555.6 1038,555.5 1039,553.2 1040,555.3 1041,556.2 1042,556.8 1043,556.9 1044,557.5 1045,559.7 1046,557.9 1047,558.2 1048,560.4 1049,558.6 1050,559.9 1051,560.5 1052,561 1053,560 1054,561.2 1055,561.4 1056,561.9 1057,561 1058,562.4 1059,561.1 1060,562.4 1061,561.1 1062,562 1063,560.9 1064,561.8 1065,562.2 1066,560.3 1067,562.3 1068,560.4 1069,562.4 1070,560.7 1071,561 1072,561.2 1073,561.1 1074,562 1075,561.3 1076,562.6 1077,561.4 1078,562.5 1079,561.3 1080,561.9 1081,562.1 1082,561.4 1083,562.6 1084,562.2 1085,562 1086,562.3 1087,561.1 1088,561.4 1089,562.9 1090,562.4 1091,561.8 1092,563.2 1093,563.1 1094,562.5 1095,560.9 1096,561.6 1097,561.6 1098,562.1 1099,561.4 1100,561.8 1101,562.9 1102,560.9 1103,560.8 1104,562 1105,560.6 1106,561.5 1107,561.2 1108,562.6 1109,561.1 1110,562 1111,562.9 1112,562.3 1113,561.6 1114,561 1115,563 1116,562.6 1117,562.3 1118,561.2 1119,561.1 1120,562.8 1121,562.6 1122,562.6 1123,561.2 1124,562.3 1125,562.5 1126,562.7 1127,562.1 1128,560.4 1129,560.3 1130,560.9 1131,562.1 1132,560.9 1133,560 1134,561 1135,560.1 1136,560.6 1137,561.2 1138,560.4 1139,560.2 1140,559.8 1141,560.6 1142,560.1 1143,558.4 1144,556.8 1145,557.6 1146,555.6 1147,554.8 1148,554.8 1149,555.8 1150,557.3 1151,556.9 1152,558.2 1153,558.2 1154,559.1 1155,559 1156,559.8 1157,559.1 1158,558.9 1159,560.3 1160,560.3 1161,560.2 1162,559.6 1163,559.6 1164,558.6 1165,558.2 1166,557.6 1167,556.2 1168,554.7 1169,556.6 1170,556.9 1171,556.1 1172,557.2 1173,557.2 1174,559.9 1175,558.3 1176,559.7 1177,559 1178,561.4 1179,561.2 1180,561.6 1181,561.2 1182,561.6 1183,562.3 1184,560.3 1185,560.9 1186,560.5 1187,561.5 1188,560.5 1189,562 1190,561.9 1191,562.2 1192,562.5 1193,560.7 1194,560.6 1195,561.6 1196,561.8 1197,562.3 1198,561.4 1199,562.9 1200,561.9 1201,561.8 1202,562.3 1203,562.8 1204,562.4 1205,562.8 1206,561.1 1207,560.9 1208,560.7 1209,562.1 1210,562.4 1211,561.1 1212,562.1 1213,561.1 1214,562 1215,563 1216,562.7 1217,561.2 1218,560.7 1219,561.1 1220,561.8 1221,561.3 1222,561.6 1223,561.7 1224,562.7 1225,561.3 1226,561.4 1227,561.2 1228,561.7 1229,560.7 1230,561.6 1231,561.5 1232,562.2 1233,561.5 1234,562.4 1235,561 1236,561.2 1237,560.9 1238,560 1239,561.7 1240,561.6 1241,562.1 1242,559.9 1243,561.7 1244,561.4 1245,561.6 1246,559.7 1247,559.9 1248,560.9 1249,560.6 1250,559.1 1251,558.7 1252,560.7 1253,559.9 1254,558.8 1255,558.7 1256,557.7 1257,557.6 1258,558.7 1259,556.2 1260,557.5 1261,556.5 1262,554.7 1263,554.6 1264,553 1265,551.9 1266,550.1 1267,548 1268,547.2 1269,544.6 1270,541.5 1271,539.8 1272,537.6 1273,536.3 1274,536.4 1275,538 1276,537.2 1277,537.8 1278,537.4 1279,538.8 1280,535.6 1281,533.5 1282,531.9 1282.7,531.8 1283,532.3 1284,535.6 1285,539.2 1286,544.6 1287,546.6 1288,548.8 1289,552.3 1290,554.2 1291,554.1 1292,554.9 1293,556.2 1294,557.5 1295,558.5 1296,558.3 1297,558.1 1298,558.6 1299,559.8 1300,558.8 1301,559.3 1302,559.1 1303,561.1 1304,560.8 1305,559.7 1306,561.1 1307,561.6 1308,560.3 1309,560.4 1310,560.4 1311,561.8 1312,561 1313,561.9 1314,561 1315,561.8 1316,562.3 1317,561.4 1318,560.7 1319,562.3 1320,562.6 1321,561.4 1322,562.5 1323,562.7 1324,562.7 1325,562.6 1326,561.6 1327,561.4 1328,561.2 1329,561.3 1330,561.3 1331,561.1 1332,560.8 1333,561.5 1334,561.1 1335,562.5 1336,561.7 1337,563.1 1338,562.4 1339,561.4 1340,562.4 1341,562.3 1342,563.1 1343,562.5 1344,561.6 1345,561.4 1346,561.9 1347,561.7 1348,561.5 1349,562.8 1350,561.7 1351,562.2 1352,561.8 1353,562.4 1354,561.4 1355,561.8 1356,561.7 1357,562.4 1358,562.3 1359,563 1360,562.5 1361,561.1 1362,562.8 1363,563 1364,563.2 1365,561.6 1366,562.4 1367,561.5 1368,562.5 1369,562.7 1370,563 1371,562.3 1372,562.4 1373,561.8 1374,561.3 1375,562 1376,561.5 1377,562.6 1378,561.6 1379,561.9 1380,561.1 1381,561.8 1382,563 1383,561.3 1384,562.2 1385,562.7 1386,563.2 1387,562.5 1388,561.2 1389,562.7 1390,562.9 1391,562.9 1392,562.8 1393,562.6 1394,562.7 1395,561.9 1396,561.1 1397,561.4 1398,562 1399,562 1400,563.1 1401,561.6 1402,561.8 1403,562.4 1404,561.4 1405,561.5 1406,561 1407,561.6 1408,560.8 1409,561.8 1410,561.3 1411,560.6 1412,560.7 1413,561.3 1414,560.5 1415,561.8 1416,561.6 1417,560.2 1418,560.7 1419,559.5 1420,559.1 1421,560.3 1422,560.5 1423,558.9 1424,559 1425,559.8 1426,558.8 1427,559 1428,559.8 1429,559.9 1430,559.7 1431,560.4 1432,560.1 1433,560.6 1434,561.6 1435,561.3 1436,561.1 1437,561.2 1438,562.5 1439,562.6 1440,562.4 1441,562.2 1442,561.6 1443,561.8 1444,561 1445,562.9 1446,561.2 1447,561 1448,562.3 1449,561.1 1450,562.6 1451,561.6 1452,562.6 1453,562.2 1454,561.3 1455,562.2 1456,562.5 1457,561 1458,561.3 1459,561.9 1460,562.4 1461,562 1462,562 1463,562.6 1464,561.6 1465,561.7 1466,562.1 1467,563.2 1468,562 1469,561.2 1470,561.6 1471,562.2 1472,563.2 1473,562.5 1474,562.2 1475,561.6 1476,561.8 1477,563 1478,563.2 1479,561.8 1480,562.4 1481,562.5 1482,562.6 1483,561.6 1484,561.5 1485,561.7 1486,562 1487,561.4 1488,560.9 1489,562.9 1490,561.6 1491,561.9 1492,561.4 1493,562.8 1494,562.1 1495,562.5 1496,561.1 1497,562.2 1498,561.4 1499,560.9 1500,561.7 1501,560.4 1502,562.2 1503,560.3 1504,561.7 1505,560.7 1506,559.9 1507,561.1 1508,559.4 1509,560.8 1510,559.2 1511,559 1512,558.1 1513,557.7 1514,559 1515,558.2 1516,556.6 1517,556.4 1518,554 1519,552.9 1520,551.2 1521,549.8 1522,548.8 1522.7,548.6 1523,548.7 1524,549.6 1525,550.6 1526,552.3 1527,554.1 1528,554.5 1529,555.4 1530,556.2 1531,558.5 1532,557.7 1533,558.1 1534,560 1535,560.1 1536,559.9 1537,559.5 1538,561.4 1539,560.1 1540,560 1541,561.5 1542,560.5 1543,562.3 1544,562.2 1545,561.3 1546,562.1 1547,560.8 1548,562.1 1549,561.3 1550,561.1 1551,562.3 1552,562.9 1553,562 1554,562.6 1555,561.8 1556,561.7 1557,562.5 1558,562.5 1559,561.1 1560,561.5 1561,562.6 1562,562.2 1563,561.4 1564,561.9 1565,563.2 1566,561.5 1567,561.2 1568,561.4 1569,562.5 1570,563.4 1571,563.4 1572,562.5 1573,561.6 1574,561.6 1575,563.3 1576,563.1 1577,562.7 1578,563.5 1579,562.6 1580,563 1581,562.3 1582,561.4 1583,563.4 1584,562.4 1585,561.5 1586,563.2 1587,561.7 1588,562 1589,563.3 1590,563 1591,563.5 1592,563.4 1593,562.2 1594,562.3 1595,561.8 1596,563.2 1597,563.4 1598,562.4 1599,563.3 1600,563.7 1601,562.9 1602,562.6 1603,563 1604,562.7 1605,562.3 1606,562.6 1607,563.4 1608,562.1 1609,561.7 1610,563.6 1611,561.9 1612,561.9 1613,562.2 1614,563.7 1615,562.8 1616,563.4 1617,563.1 1618,563.3 1619,561.6 1620,561.8 1621,563 1622,563.2 1623,563.3 1624,562.4 1625,562.4 1626,563.6 1627,563.3 1628,562.3 1629,563.1 1630,561.7 1631,563.3 1632,562.2 1633,561.9 1634,562.9 1635,562.8 1636,562.9 1637,562.1 1638,563.4 1639,563 1640,561.6 1641,563.7 1642,562.1 1643,561.7 1644,563 1645,562.9 1646,561.8 1647,562 1648,562.4 1649,563.5 1650,561.9 1651,562 1652,561.6 1653,562.3 1654,561.7 1655,562.6 1656,562.6 1657,562 1658,562.4 1659,562.8 1660,563.1 1661,563.6 1662,561.8 1663,563.5 1664,562.5 1665,561.9 1666,562.3 1667,562.1 1668,563.5 1669,561.6 1670,562 1671,562.7 1672,562 1673,563.5 1674,561.7 1675,563.6 1676,563 1677,563.4 1678,562.6 1679,561.6 1680,563.3 1681,562.4 1682,562.8 1683,563.2 1684,561.8 1685,562 1686,562.2 1687,561.9 1688,563.4 1689,562.9 1690,562.2 1691,563.1 1692,563.2 1693,562.1 1694,563.1 1695,563.1 1696,563.2 1697,563.2 1698,561.5 1699,562.3 1700,562.3 1701,562.3 1702,563.5 1703,562.7 1704,563.3 1705,562.2 1706,562.2 1707,561.9 1708,562.7 1709,563.1 1710,562.8 1711,561.2 1712,561.9 1713,561.2 1714,561.7 1715,561.5 1716,561.5 1717,561.3 1718,561.4 1719,563 1720,561 1721,562.6 1722,562.6 1723,562.5 1724,561 1725,562.6 1726,562.7 1727,562.2 1728,562.4 1729,560.9 1730,561.9 1731,560.9 1732,559.9 1733,560.9 1734,559.7 1735,561.2 1736,560.6 1737,559.9 1738,560.3 1739,560.1 1740,558.2 1741,558.3 1742,558.1 1743,555.7 1744,555.2 1745,555.7 1746,553.4 1747,553.1 1748,551 1749,550.4 1749.7,550.1 1750,550.2 1751,550.9 1752,552.2 1753,553.1 1754,553.8 1755,556 1756,557.3 1757,558 1758,558.2 1759,558.1 1760,559.5 1761,558.6 1762,559 1763,560.5 1764,559.8 1765,561.2 1766,561.3 1767,560.5 1768,562.1 1769,560.6 1770,561.2 1771,561.9 1772,560.5 1773,561.6 1774,561.9 1775,562.7 1776,562.8 1777,561.2 1778,561.4 1779,561.7 1780,561.5 1781,561.2 1782,562.4 1783,562.7 1784,561.2 1785,563.2 1786,562.6 1787,562.8 1788,562.2 1789,563.2 1790,563.1 1791,562.2 1792,562.6 1793,563.4 1794,562.8 1795,561.6 1796,561.5 1797,563.4 1798,563 1799,562.5 1800,562.8 1801,562.5 1802,561.7 1803,563 1804,561.7 1805,562.1 1806,562.6 1807,562.5 1808,563 1809,563.4 1810,562.6 1811,562.8 1812,562.9 1813,563.2 1814,562.1 1815,562.4 1816,562.8 1817,562.8 1818,562.8 1819,562.8" stroke="#008000" stroke-width="8.6"/>
<polyline points="128,704.6 129,704.6 130,704.6 131,704.6 132,705 133,704.2 134,705 135,704.8 136,703 137,704.7 138,705 139,704.7 140,706 141,705.5 142,704.2 143,703.6 144,703.3 145,705.8 146,705.3 147,705 148,704.4 149,704.7 150,703.7 151,704.8 152,703.4 153,705.1 154,705.1 155,705.3 156,703.8 157,703.2 158,704.1 159,705.4 160,704.7 161,705.6 162,704.5 163,704.3 164,706.2 165,703.5 166,703.7 167,705 168,705.2 169,704.5 170,704.9 171,704.5 172,705.3 173,706.1 174,705.9 175,705.3 176,704.6 177,706.4 178,704.6 179,705.2 180,706.1 181,705.4 182,704.4 183,705.7 184,705.1 185,706.3 186,705.2 187,704.9 188,706.5 189,704.9 190,704.4 191,706.4 192,706.4 193,703.6 194,703.3 195,706.1 196,706.2 197,704.4 198,704 199,705.5 200,706.4 201,703.8 202,704.7 203,705.4 204,703.9 205,704.6 206,703.6 207,704.8 208,703.9 209,703.4 210,704.5 211,703.6 212,703.5 213,703.6 214,704.6 215,704.2 216,705.7 217,704.6 218,704 219,703.8 220,704.2 221,705.8 222,703.9 223,704.8 224,706 225,706.1 226,704.8 227,706.2 228,705.5 229,704 230,703.5 231,703.8 232,706 233,704.6 234,706.2 235,706.7 236,706.5 237,704.9 238,703.2 239,704.2 240,704 241,705.5 242,705.7 243,706.5 244,705.8 245,706.7 246,705.5 247,704.9 248,706.2 249,704.2 250,706 251,705.9 252,706.4 253,703.5 254,703.9 255,706.7 256,703.8 257,704.9 258,705.4 259,705 260,706.4 261,706.7 262,704.5 263,703.8 264,706.6 265,704.9 266,704.2 267,703.8 268,703.3 269,705.4 270,704.3 271,705.3 272,706.6 273,705.1 274,706.8 275,703.6 276,706.1 277,706 278,706.8 279,703.5 280,705.2 281,705.3 282,705.5 283,705 284,704.3 285,706.6 286,706.5 287,705.9 288,706.8 289,705.4 290,703.7 291,705.9 292,703.8 293,706.1 294,705.7 295,704.1 296,703.9 297,703.6 298,704 299,706.9 300,704.2 301,706.6 302,703.9 303,704.6 304,705.1 305,704.7 306,706.9 307,704.3 308,705.2 309,704.2 310,703.8 311,705.9 312,704.7 313,705.2 314,705.9 315,703.8 316,703.7 317,705.9 318,707 319,703.5 320,705.1 321,707 322,706.5 323,707 324,705.4 325,707 326,703.7 327,705.2 328,706.5 329,704.9 330,705.1 331,705.1 332,704.9 333,706.4 334,707 335,704.3 336,704.6 337,706.4 338,706.2 339,706.4 340,705.9 341,706.8 342,706.5 343,705.7 344,704.5 345,703.7 346,706.5 347,706.5 348,706.6 349,704.3 350,705.9 351,706.6 352,703.8 353,703 354,703.2 355,702.9 356,703.6 357,702.8 358,702.7 359,703.4 360,705.4 361,706 362,704.5 363,706.4 364,705.8 365,704.2 366,705.5 367,704 368,704.9 369,706.4 370,703.5 371,705.4 372,705.1 373,704.5 374,703.7 375,705.4 376,704.7 377,703.9 378,705 379,706 380,703.8 381,706.3 382,703.8 383,705.2 384,704.8 385,706.6 386,706.7 387,706.1 388,704.5 389,704.6 390,706.4 391,705.3 392,705.7 393,706 394,704.1 395,704.8 396,706.8 397,704.6 398,706.4 399,703.9 400,703.3 401,705.1 402,704.2 403,705.3 404,705.9 405,703.3 406,704.9 407,704.4 408,706.2 409,705.9 410,706 411,705.4 412,703.9 413,704.7 414,704.3 415,703.5 416,703.1 417,704.2 418,704.8 419,702.2 420,702.2 421,701.1 422,701.3 423,700.7 424,698.8 425,699.7 426,697.2 427,696.9 428,692 429,689.7 430,684 431,677.8 431.7,676.5 432,676.9 433,680.9 434,686.4 435,690.2 436,696 437,696.5 438,700.1 439,700.1 440,699.7 441,703.4 442,703.6 443,703.5 444,703.4 445,704.2 446,705.2 447,702.7 448,703.1 449,705.1 450,704 451,706.2 452,705.8 453,704.7 454,703.5 455,705.2 456,705.3 457,705.2 458,706 459,705 460,706.5 461,705.5 462,703.9 463,706.4 464,704 465,706.7 466,706.8 467,704.2 468,704.2 469,706 470,705.2 471,704.9 472,706.2 473,704.7 474,704 475,705.5 476,706.7 477,707 478,703.9 479,706.1 480,704.6 481,706.9 482,704.7 483,703.6 484,704.3 485,704.9 486,703.5 487,705.4 488,703.5 489,704.6 490,702.2 491,702.4 492,702.1 493,699.5 494,699.1 495,701 496,700 497,700.8 498,702.7 499,703.8 500,705 501,704.3 502,705.7 503,706.1 504,706.4 505,706.5 506,705.9 507,706 508,704.9 509,704 510,707 511,705.2 512,705 513,705.7 514,706.5 515,706.8 516,704.3 517,706.7 518,707.3 519,707.4 520,707.3 521,706 522,707.1 523,706.1 524,707 525,707.5 526,705.3 527,704.4 528,706.7 529,707.4 530,707.3 531,705.7 532,705.6 533,704.5 534,707.1 535,705 536,704.5 537,704.4 538,707.4 539,705.5 540,706.9 541,704.3 542,705.8 543,706.7 544,706.8 545,704.7 546,705.8 547,707 548,707.3 549,704.4 550,706.2 551,707.2 552,706.3 553,706.9 554,705.1 555,705.8 556,704.1 557,706.9 558,706.1 559,704.7 560,707.4 561,704.8 562,704.1 563,706.6 564,704.3 565,706.4 566,704.5 567,704.1 568,706.6 569,706.2 570,706.4 571,706.5 572,706.5 573,704.6 574,705.5 575,706.1 576,707 577,706.2 578,705.7 579,706.9 580,706.9 581,704.8 582,704.5 583,703.9 584,707 585,704.6 586,705.9 587,705.7 588,706.1 589,707.1 590,706.1 591,704.3 592,705.3 593,704.4 594,705 595,706.3 596,706 597,705.9 598,706.7 599,707.1 600,704.4 601,706 602,705.8 603,703.5 604,707 605,704.8 606,705.8 607,704.1 608,704.8 609,703.7 610,706.7 611,703.3 612,703.4 613,705.7 614,705.1 615,704.1 616,706.3 617,705.3 618,704.3 619,705.2 620,705.9 621,705.6 622,703.7 623,705 624,702.9 625,703.4 626,705.4 627,704.4 628,703 629,703.3 630,702.7 631,703.5 632,702.6 633,702.1 634,701.7 635,703 636,702.4 637,699.9 638,700.1 639,701.4 640,700.2 641,699.1 642,698.5 643,696.2 644,696.6 645,696.2 646,693.9 647,692.3 648,690.8 649,689.4 650,685.8 651,685.2 652,679.1 653,677.7 654,671.9 655,664.8 656,657.2 657,647.8 658,635.6 659,624.1 660,604.1 661,583.6 662,565.4 663,549.2 664,540.8 664.2,540.6 665,544.4 666,557.6 667,576.9 668,597.5 669,617.6 670,631.1 671,643.9 672,655.5 673,663.3 674,671.1 675,674.9 676,680 677,683.1 678,686.4 679,688.5 680,689.4 681,691 682,693.5 683,697 684,696.4 685,697.3 686,698 687,699.9 688,699.1 689,699.8 690,700.1 691,701.4 692,701.5 693,702.3 694,703.8 695,701.9 696,703.1 697,704.7 698,703.9 699,704.3 700,704.3 701,702 702,703.4 703,702.2 704,701.9 705,700.7 706,702.5 707,702.5 708,702 709,700.4 710,702.5 711,702.8 712,702.8 713,704.2 714,704.7 715,702.5 716,705.1 717,705.5 718,704.8 719,706.6 720,706.5 721,704.4 722,705.6 723,704.4 724,705.8 725,705 726,704.7 727,705.8 728,707.3 729,705.5 730,708.4 731,705.7 732,708 733,706.1 734,708.2 735,707 736,708.2 737,706.8 738,706.3 739,708.5 740,705.5 741,705.9 742,705.9 743,707.4 744,708.2 745,706.4 746,707.6 747,708.6 748,705.6 749,708.3 750,706.1 751,705.8 752,707.4 753,707.1 754,707.1 755,708 756,705.8 757,707.9 758,706.3 759,709.1 760,707.5 761,706.6 762,707.7 763,707.3 764,706.1 765,708.5 766,707.4 767,708.8 768,708.5 769,708.8 770,709.2 771,707 772,707.9 773,707.9 774,708.1 775,708.5 776,708.6 777,708.2 778,708 779,707.8 780,706.4 781,706.9 782,706.4 783,708 784,708 785,706.7 786,707.2 787,708.9 788,706.5 789,707.7 790,707.6 791,707.5 792,706.8 793,709.1 794,707.7 795,707.5 796,706 797,705.8 798,707.2 799,706.4 800,707.6 801,707.5 802,705 803,705.7 804,704.8 805,705.2 806,704.1 807,704.8 808,702.5 809,704.8 810,706.4 811,705 812,704.9 813,706.4 814,705.9 815,705.3 816,708 817,707.7 818,707.4 819,708.1 820,707.6 821,706.6 822,707.6 823,708 824,708 825,707.6 826,707.2 827,707.6 828,707.3 829,706.1 830,705.1 831,705.7 832,706.2 833,702.8 834,703.4 835,701.7 836,700.6 837,700.9 838,698 839,695.6 840,694.4 841,691.1 842,688.7 842.5,688.3 843,688.4 844,690.4 845,691.5 846,693.8 847,695.9 848,698.5 849,697.9 850,697.6 851,696.2 852,693 853,694.8 854,695.6 855,698.3 856,697.5 857,699.6 858,700.8 859,702.9 860,703.4 861,703.8 862,705.9 863,706.8 864,707.1 865,704.6 866,705.1 867,706.1 868,707.3 869,707.4 870,707.7 871,705.5 872,706.9 873,705.3 874,707.3 875,707.8 876,706.1 877,706.2 878,705.2 879,707.6 880,705.8 881,705.4 882,705.5 883,704.4 884,706.7 885,706.2 886,704.5 887,703.7 888,703.8 889,705.2 890,702.6 891,703.6 892,705.4 893,704.7 894,705.7 895,704.8 896,706.1 897,708 898,707.4 899,707.3 900,708.2 901,706.2 902,708 903,708.9 904,707.1 905,706 906,707.9 907,708.9 908,706.5 909,707 910,708.4 911,707.8 912,709.3 913,708 914,707.4 915,707.4 916,707.8 917,708.7 918,708.7 919,707.7 920,707.5 921,708.3 922,706.9 923,707.9 924,707.5 925,706.4 926,708.5 927,706.7 928,707.3 929,708.3 930,709.1 931,708.4 932,709.4 933,706.5 934,708.9 935,708.7 936,708.6 937,709.4 938,706.6 939,706.7 940,709.3 941,709.1 942,706.8 943,707.8 944,709.1 945,708.2 946,706.5 947,707 948,708.9 949,706.8 950,707.2 951,708.8 952,706.9 953,708.1 954,706.8 955,706.8 956,707.9 957,708.6 958,707.4 959,707 960,708.3 961,708.3 962,706.2 963,708.1 964,707.7 965,709 966,707.8 967,707.8 968,706.2 969,707.3 970,706 971,706.3 972,707.2 973,708.2 974,708.5 975,708 976,706.9 977,706.7 978,707.3 979,706.2 980,705 981,707 982,707.4 983,707.1 984,706.1 985,706.3 986,704.3 987,704 988,705.5 989,704 990,702.7 991,703.3 992,702.7 993,702.3 994,698.9 995,698 996,696.9 997,695.5 998,692.7 999,685.7 1000,680.4 1001,672.9 1002,665.3 1003,661.3 1004,664.9 1005,673.1 1006,679.9 1007,687.9 1008,690.9 1009,694.5 1010,697.5 1011,698.4 1012,698.5 1013,700.4 1014,700.3 1015,702.2 1016,704.4 1017,704.2 1018,705.2 1019,703.2 1020,704.9 1021,705.4 1022,704.6 1023,705.7 1024,703.7 1025,706 1026,706 1027,703.7 1028,703.1 1029,705.1 1030,703.8 1031,704.5 1032,702.6 1033,700.9 1034,700.2 1035,700.6 1036,699.2 1037,700.9 1038,700.6 1039,700.7 1040,702.4 1041,703.1 1042,702.8 1043,704.2 1044,704.3 1045,703.7 1046,704.4 1047,705.1 1048,704.8 1049,707.4 1050,706.6 1051,706 1052,705.8 1053,707.5 1054,706.9 1055,708.3 1056,707.7 1057,706.3 1058,708.8 1059,708.6 1060,707.2 1061,708.5 1062,708.1 1063,706.6 1064,707.1 1065,707.3 1066,708 1067,707.9 1068,708.1 1069,706.6 1070,707.6 1071,706.9 1072,707.7 1073,709.4 1074,706.9 1075,706.7 1076,707.8 1077,707.7 1078,706.9 1079,709.1 1080,708.9 1081,709 1082,708.5 1083,708.1 1084,708.3 1085,707.3 1086,706.8 1087,709.4 1088,709.2 1089,707.6 1090,708.2 1091,707.1 1092,709.1 1093,709.3 1094,709.5 1095,707.1 1096,709.5 1097,707.1 1098,708.9 1099,709.4 1100,707.3 1101,708.4 1102,709 1103,709 1104,709 1105,708.6 1106,708.2 1107,708.3 1108,708.9 1109,708.8 1110,708.6 1111,709.1 1112,707.5 1113,707.7 1114,707.9 1115,707.5 1116,708.7 1117,706.8 1118,709.2 1119,707.1 1120,708.4 1121,708.7 1122,707.4 1123,706.7 1124,709.2 1125,709 1126,707.8 1127,707.1 1128,707.7 1129,708 1130,706.6 1131,707.8 1132,707.9 1133,706.5 1134,706.7 1135,706.6 1136,706.1 1137,706.2 1138,705.1 1139,705.2 1140,706 1141,704.8 1142,703.4 1143,701.5 1144,701 1145,701.1 1146,700 1147,700.9 1148,701.4 1149,701.9 1150,703.4 1151,703.7 1152,704 1153,706.2 1154,706 1155,705.4 1156,704.6 1157,705.9 1158,705.6 1159,707 1160,707.1 1161,706.3 1162,704.3 1163,705.7 1164,704.1 1165,704.5 1166,704.6 1167,702.1 1168,703.8 1169,703.1 1170,701.9 1171,702.3 1172,702.3 1173,704.2 1174,705.2 1175,704.6 1176,705.9 1177,704.7 1178,705.2 1179,707.4 1180,705.8 1181,707.5 1182,707.6 1183,706.1 1184,708.2 1185,707.6 1186,707.5 1187,708.1 1188,707.4 1189,708.6 1190,707.9 1191,708.5 1192,707.7 1193,707.7 1194,707.5 1195,707.2 1196,708.9 1197,708.2 1198,709 1199,708.3 1200,708.7 1201,708.2 1202,708 1203,708.9 1204,707.1 1205,708.3 1206,706.8 1207,707.1 1208,709.2 1209,706.9 1210,708.8 1211,709.2 1212,708.5 1213,709.2 1214,707.2 1215,708.5 1216,708.3 1217,708 1218,706.9 1219,706.9 1220,708.7 1221,707.1 1222,708.3 1223,707 1224,708.2 1225,706.8 1226,708.9 1227,708.2 1228,707.1 1229,708.8 1230,706.9 1231,707.6 1232,707.8 1233,706.7 1234,708 1235,706.9 1236,708.1 1237,708.4 1238,708.3 1239,706.3 1240,707.1 1241,707.5 1242,705.8 1243,705.7 1244,707.3 1245,707 1246,705.7 1247,706.8 1248,706.8 1249,705.4 1250,705.7 1251,706 1252,704 1253,705.2 1254,705.4 1255,705 1256,704.5 1257,703.4 1258,703 1259,700.8 1260,699.6 1261,699.5 1262,696.7 1263,695 1264,693.6 1265,690.6 1266,688.9 1267,683.9 1268,681.3 1269,680 1270,677 1271,677.4 1272,677 1273,678.2 1274,676.1 1275,675.5 1276,672.6 1277,669.9 1278,668.6 1278.2,668.7 1279,671.2 1280,676.8 1281,682.3 1282,686.8 1283,690.1 1284,693.8 1285,696 1286,698.3 1287,700.5 1288,700.7 1289,700.9 1290,703.1 1291,702.7 1292,704 1293,704.4 1294,704.8 1295,704 1296,704.3 1297,706 1298,705.7 1299,706.3 1300,707 1301,705.9 1302,706.2 1303,707.1 1304,706.1 1305,706.9 1306,706.1 1307,707.7 1308,706.7 1309,706.6 1310,707.3 1311,708.1 1312,707.8 1313,707.4 1314,706.7 1315,707.5 1316,706.6 1317,707.7 1318,706.9 1319,708.2 1320,708.7 1321,707.6 1322,709 1323,708.2 1324,707.9 1325,708.2 1326,708.7 1327,708.6 1328,709 1329,709.1 1330,707.5 1331,709.1 1332,709.1 1333,707.9 1334,708.6 1335,708.1 1336,707.9 1337,708.2 1338,709.4 1339,708 1340,707.3 1341,709 1342,707.7 1343,707.3 1344,707.7 1345,707.7 1346,708.5 1347,707.5 1348,709.3 1349,708.9 1350,709.4 1351,709.3 1352,709.3 1353,709.4 1354,708.1 1355,709.2 1356,708.2 1357,709.4 1358,707.4 1359,708.8 1360,708.4 1361,709.3 1362,707.8 1363,709 1364,708.1 1365,709.6 1366,708.5 1367,708.3 1368,709.3 1369,708.9 1370,708.8 1371,708.9 1372,708.7 1373,709 1374,709.1 1375,709 1376,707.5 1377,708.9 1378,709.6 1379,709 1380,708.7 1381,707.6 1382,708.5 1383,708.4 1384,707.8 1385,708 1386,708 1387,707.4 1388,708.4 1389,709.1 1390,708.7 1391,709.4 1392,709.4 1393,708.7 1394,707.7 1395,707.3 1396,708.6 1397,707.4 1398,708.7 1399,709.1 1400,708 1401,707.7 1402,707.6 1403,709.3 1404,708 1405,707.8 1406,708.2 1407,708.4 1408,707.8 1409,708.2 1410,707 1411,707 1412,707.3 1413,707.8 1414,707.4 1415,706.9 1416,706.9 1417,706 1418,707.3 1419,707.5 1420,707 1421,706.9 1422,705.6 1423,705.5 1424,705.7 1425,705 1426,704.7 1427,706.4 1428,705.8 1429,706.7 1430,706.6 1431,706.1 1432,705.7 1433,706.1 1434,706.9 1435,707.4 1436,706.8 1437,707 1438,706.9 1439,707.2 1440,707.3 1441,707.7 1442,706.8 1443,708.5 1444,708.6 1445,708.2 1446,708.6 1447,708.3 1448,708.1 1449,709.1 1450,709.2 1451,709.2 1452,709.3 1453,707.9 1454,708 1455,708.9 1456,708 1457,708.2 1458,708.1 1459,709 1460,707.8 1461,707.3 1462,709.3 1463,708.6 1464,709.3 1465,707.8 1466,707.3 1467,707.3 1468,708.3 1469,707.9 1470,707.5 1471,709.3 1472,709.3 1473,707.7 1474,709 1475,709.3 1476,708.5 1477,707.6 1478,707.2 1479,707.8 1480,707.1 1481,709 1482,708.4 1483,708.3 1484,708.9 1485,707.6 1486,707.2 1487,708.4 1488,707.2 1489,707.6 1490,708.6 1491,708.7 1492,707.2 1493,707.1 1494,707.3 1495,706.8 1496,706 1497,706.1 1498,706.7 1499,706.5 1500,707.4 1501,705.3 1502,705.2 1503,704.6 1504,704.8 1505,704 1506,704.6 1507,703.4 1508,704.1 1509,701.8 1510,701.1 1511,699.8 1512,698.9 1513,695.9 1514,693.4 1515,692.8 1516,691.4 1516.5,691.3 1517,691.5 1518,692.7 1519,694.8 1520,696 1521,699.2 1522,699.4 1523,702.2 1524,701.9 1525,703.5 1526,703.8 1527,704 1528,704.3 1529,705.4 1530,706.8 1531,705.9 1532,706.8 1533,707.4 1534,706.2 1535,707 1536,706.2 1537,708.1 1538,707.9 1539,706.7 1540,708.4 1541,708.1 1542,707.9 1543,708 1544,707.9 1545,708.6 1546,707.7 1547,707.7 1548,707.7 1549,707.2 1550,709 1551,707.7 1552,707.4 1553,708.1 1554,707.8 1555,709.1 1556,707.6 1557,709 1558,708.7 1559,707.4 1560,708 1561,709.2 1562,708.7 1563,708.5 1564,708.9 1565,709.6 1566,709.6 1567,708.2 1568,707.9 1569,709.1 1570,708.7 1571,709.5 1572,709.5 1573,709.4 1574,707.6 1575,708.2 1576,709.5 1577,709.6 1578,707.8 1579,707.6 1580,709.7 1581,707.8 1582,709.2 1583,709.5 1584,709.1 1585,708.5 1586,708.6 1587,708 1588,707.7 1589,707.7 1590,707.8 1591,709.7 1592,707.8 1593,709.6 1594,708.2 1595,709.1 1596,709.1 1597,708 1598,707.6 1599,708 1600,709.2 1601,708.6 1602,708 1603,708.4 1604,708.6 1605,709.7 1606,708.6 1607,709.1 1608,707.5 1609,709.5 1610,708.6 1611,708.1 1612,709.3 1613,707.7 1614,707.4 1615,709.2 1616,709.2 1617,707.7 1618,707.8 1619,708.5 1620,707.6 1621,708 1622,707.1 1623,708.6 1624,707 1625,707.4 1626,707.9 1627,707.7 1628,707 1629,705.9 1630,705.3 1631,706.2 1632,706 1633,706.3 1634,705.8 1635,706.1 1636,706.4 1637,707.2 1638,707.4 1639,705.8 1640,707.9 1641,706.8 1642,706.5 1643,706.4 1644,706.9 1645,707.3 1646,707.3 1647,707.7 1648,708.2 1649,708.2 1650,706.5 1651,706.1 1652,707.4 1653,707.2 1654,707.1 1655,706.1 1656,706.4 1657,707.7 1658,706.9 1659,707 1660,707.7 1661,708.4 1662,707.4 1663,707.9 1664,708.9 1665,708.6 1666,707.5 1667,708.6 1668,708.4 1669,708.3 1670,708.6 1671,707.7 1672,709 1673,707.5 1674,708 1675,708.6 1676,707.9 1677,708.6 1678,707.7 1679,708.8 1680,709.8 1681,707.7 1682,709.8 1683,709.1 1684,709.2 1685,707.9 1686,708 1687,708.8 1688,709.3 1689,707.8 1690,707.7 1691,709.6 1692,709.3 1693,709.4 1694,707.5 1695,707.8 1696,708.9 1697,709.5 1698,708 1699,709.1 1700,709.1 1701,708.8 1702,708.7 1703,708.4 1704,708.6 1705,708.7 1706,708 1707,708.7 1708,709.2 1709,707.6 1710,707.5 1711,709.1 1712,708.8 1713,707.5 1714,707.4 1715,708.9 1716,707.3 1717,706.8 1718,706.9 1719,706.9 1720,708.6 1721,708.4 1722,707.2 1723,707.3 1724,708 1725,705.9 1726,706.1 1727,705.9 1728,706.7 1729,706.2 1730,705.9 1731,705.3 1732,703 1733,703 1734,701.8 1735,699.8 1736,700.5 1737,697.3 1738,695.6 1739,694.6 1740,693.8 1740.2,693.8 1741,694.2 1742,695.8 1743,696.8 1744,697.8 1745,700.4 1746,702.5 1747,703.1 1748,704.2 1749,704.3 1750,704.5 1751,705.2 1752,706 1753,706.4 1754,706 1755,707.2 1756,706.9 1757,707.9 1758,708.1 1759,707.4 1760,707.1 1761,707.8 1762,707.5 1763,708.1 1764,707.7 1765,707.4 1766,707.2 1767,707.5 1768,707.3 1769,708 1770,708.9 1771,707.7 1772,709.5 1773,708.5 1774,709.2 1775,709.7 1776,709.3 1777,708.9 1778,707.9 1779,708.8 1780,708.9 1781,709.2 1782,709.8 1783,708.4 1784,708.7 1785,709.8 1786,709.4 1787,708 1788,708.3 1789,709.1 1790,710 1791,709.2 1792,709 1793,709.8 1794,709.7 1795,709.9 1796,709.2 1797,709.3 1798,709.1 1799,708.7 1800,708.9 1801,708.1 1802,709.6 1803,709.6 1804,708.6 1805,708 1806,709.3 1807,708.5 1808,708.3 1809,708.1 1810,708.7 1811,708.1 1812,708.8 1813,709.9 1814,709.8 1815,709.9 1816,709.1 1817,709.1 1818,709.1 1819,709.1" stroke="#ff00ff" stroke-width="8.6"/>
<polyline points="128,876.6 129,876.6 130,876.6 131,876.6 132,875.6 133,875.1 134,877 135,875.2 136,876.2 137,878 138,878 139,875.2 140,875.1 141,875.6 142,877.8 143,874.9 144,875.7 145,875.2 146,875.3 147,876.7 148,875.5 149,876.3 150,877.5 151,877.5 152,876.4 153,877.7 154,876.9 155,877.9 156,875.8 157,876.2 158,877 159,878.3 160,877.1 161,876.6 162,875.8 163,875.9 164,875.7 165,878.5 166,878.1 167,878.2 168,876.8 169,877.5 170,876 171,876.7 172,875.5 173,876.5 174,875.9 175,875.3 176,878.3 177,875.3 178,877.9 179,877.5 180,875.3 181,876.7 182,878.6 183,878.6 184,877 185,877.8 186,877.6 187,876.1 188,877 189,877.2 190,876.4 191,878 192,876.6 193,877.7 194,875.3 195,876.7 196,875.2 197,877.4 198,878.2 199,877 200,877.1 201,877.3 202,875.9 203,876.5 204,877.2 205,877.4 206,876.5 207,876.8 208,876.3 209,877.1 210,877.5 211,876.3 212,877.6 213,878.2 214,877.1 215,878.7 216,876.3 217,878.5 218,875.8 219,876.5 220,878.1 221,875.3 222,877.4 223,878.3 224,878.6 225,877.6 226,876.4 227,876.4 228,877.5 229,875.4 230,875.3 231,878.4 232,877.5 233,875.8 234,876.8 235,876.3 236,878.3 237,876.3 238,877.8 239,877.9 240,876.4 241,876.1 242,877.1 243,876.7 244,877.4 245,876.4 246,878.1 247,876.8 248,875.8 249,878.1 250,878.5 251,877.7 252,877.2 253,878.4 254,878.6 255,875.3 256,877.1 257,875.4 258,876.5 259,876.2 260,877 261,877.8 262,878.4 263,876.3 264,875.4 265,878.9 266,878.1 267,877.3 268,875.7 269,875.5 270,878.7 271,877.3 272,878.5 273,878.2 274,878.1 275,878.3 276,876.3 277,876.3 278,876.9 279,878.1 280,878.2 281,878.1 282,877.5 283,877.1 284,876.1 285,877.8 286,877.8 287,877.3 288,878 289,878.9 290,878.8 291,875.8 292,876.5 293,877.6 294,877.9 295,876.5 296,878.8 297,877.1 298,878.2 299,875.6 300,876.5 301,875.5 302,878.3 303,877.3 304,878.9 305,877.7 306,876.7 307,876.8 308,876.8 309,876.2 310,875.9 311,877.8 312,876.6 313,877.1 314,878.1 315,876.5 316,877.1 317,876.7 318,876.7 319,877.9 320,875.9 321,877 322,875.9 323,877.9 324,876.6 325,879 326,877.3 327,877.9 328,877.4 329,878.5 330,878.1 331,877.9 332,875.7 333,876.1 334,878.3 335,877.1 336,879.1 337,877.9 338,878.5 339,878.3 340,879 341,877.9 342,879 343,877.1 344,876.5 345,876 346,876.5 347,878.8 348,878 349,875.7 350,875.7 351,877.3 352,877.6 353,876.9 354,875.7 355,876.5 356,878.8 357,878.2 358,878.5 359,876.6 360,878 361,876.3 362,876.7 363,879 364,876.3 365,876.6 366,876.3 367,878.7 368,878 369,877.7 370,878.6 371,877.2 372,878.8 373,878.3 374,876.5 375,876.3 376,877.3 377,877 378,878.1 379,877.6 380,877.8 381,877.2 382,875.8 383,877.4 384,878 385,876.4 386,876.3 387,874.1 388,873.2 389,874.2 390,874.9 391,875.8 392,875.4 393,876 394,874.7 395,874.8 396,875.2 397,876.1 398,875.9 399,875.6 400,876.3 401,876.3 402,878.1 403,878.5 404,878.7 405,877.8 406,875.2 407,875.9 408,878.7 409,877.5 410,878 411,875.6 412,875.7 413,875.1 414,876.5 415,875.8 416,876.1 417,874.7 418,874.1 419,875.2 420,876.9 421,875.6 422,874.9 423,872.6 424,873.3 425,872.3 426,872.2 427,870 428,869.6 429,864.9 430,862.6 431,856.1 432,852.2 432.5,851.7 433,852.6 434,856.5 435,860.7 436,867.4 437,868.8 438,868.9 439,873.6 440,873.1 441,872.9 442,874.3 443,874.3 444,875.4 445,875.2 446,875.3 447,876.8 448,875.5 449,877.5 450,877.4 451,878.2 452,875.5 453,878.1 454,877.7 455,875.8 456,878.5 457,877.1 458,876 459,876.2 460,879 461,878.4 462,876.4 463,878.8 464,875.7 465,878.1 466,877.9 467,878.8 468,878.9 469,878.3 470,878.7 471,877.4 472,879.1 473,877.3 474,878.3 475,878.4 476,877.2 477,878.7 478,878.3 479,876.3 480,877.8 481,877.4 482,877.7 483,875.7 484,878 485,876.8 486,878 487,876.1 488,875.1 489,876.4 490,876.8 491,876.8 492,875.4 493,875.9 494,872.5 495,871.7 496,872.6 497,873.9 498,875 499,873.3 500,875.9 501,875.5 502,876.6 503,875.3 504,875.8 505,877.7 506,876.7 507,879.1 508,877.5 509,877 510,876.5 511,877.8 512,877.7 513,876.9 514,879.5 515,877.8 516,878.8 517,878.5 518,879.1 519,876.4 520,879.6 521,878.3 522,876.7 523,878.3 524,876.3 525,877.7 526,876.5 527,876.3 528,877.8 529,879.2 530,878.9 531,879.6 532,879 533,878.4 534,878.4 535,879.7 536,876.7 537,878.1 538,878.2 539,876.3 540,879.4 541,878.7 542,877.5 543,879.1 544,878 545,878.9 546,878.2 547,879.3 548,878.1 549,876.6 550,879 551,877.1 552,878.3 553,879.6 554,878.9 555,876.5 556,879.3 557,879.7 558,877.9 559,877.2 560,877.9 561,878.2 562,876.4 563,879.3 564,878.6 565,877.7 566,879.2 567,876.9 568,879.5 569,879.3 570,878 571,876.7 572,877.9 573,876.6 574,878.2 575,876.7 576,878.1 577,877.7 578,877.4 579,878.3 580,878.1 581,879.4 582,877.8 583,878.3 584,878.8 585,876.8 586,878.1 587,876.8 588,877.9 589,878 590,879.4 591,879.6 592,877.2 593,879.2 594,877.4 595,877 596,878.2 597,877.1 598,879.4 599,879.2 600,876.1 601,879.5 602,879.2 603,876.5 604,878.3 605,877.9 606,876.5 607,878.5 608,875.9 609,877.1 610,877.7 611,878.7 612,877.3 613,876.8 614,877.5 615,877.7 616,877.1 617,876 618,878.6 619,876.3 620,876.2 621,876.2 622,878.9 623,875.6 624,877.5 625,877.2 626,875.9 627,877.8 628,875.5 629,875.2 630,874.7 631,876.9 632,874.5 633,876.4 634,876.3 635,874.1 636,876.9 637,873.7 638,874 639,875.4 640,873.1 641,874.5 642,873.6 643,873.3 644,871.2 645,870 646,869.8 647,869.2 648,865.8 649,864.4 650,863.2 651,860.1 652,859.7 653,856.9 654,850.7 655,844.1 656,836.8 657,828.2 658,814 659,795 660,771.3 661,743 662,711.3 663,690.3 663.5,687.5 664,690.3 665,710.8 666,740.4 667,770.5 668,795.3 669,814.5 670,826.2 671,838.7 672,846.8 673,852.3 674,856.7 675,859.4 676,861.9 677,863.2 678,866 679,867 680,868.8 681,868.9 682,873.1 683,872 684,871.5 685,872.3 686,874 687,873.1 688,875.7 689,874.7 690,876.3 691,875.5 692,875.9 693,877.9 694,876.5 695,878.3 696,877.6 697,877.9 698,877.9 699,877.2 700,876.2 701,877.2 702,874.4 703,874.4 704,875.3 705,873.8 706,869 707,870.9 708,870.7 709,871.8 710,876.1 711,876.2 712,875.9 713,879 714,876.4 715,879 716,879.3 717,879.6 718,878.8 719,878.3 720,878.1 721,880.1 722,879.3 723,877.7 724,880.1 725,880.3 726,880.6 727,879.5 728,880.3 729,880 730,880.7 731,878.9 732,878.8 733,881 734,879 735,878.1 736,880.5 737,880.9 738,881.2 739,881.6 740,878.4 741,881.5 742,879.2 743,878.7 744,879.2 745,878.6 746,878.3 747,878.8 748,880.2 749,878.5 750,881 751,878.3 752,879.1 753,878.9 754,878.8 755,878.4 756,880.2 757,878.6 758,878.8 759,878.4 760,881.3 761,879 762,879.8 763,881.1 764,878.9 765,879.7 766,881.3 767,880.6 768,878.9 769,880.2 770,881.3 771,880.3 772,879.4 773,879.2 774,881.5 775,879.8 776,879.1 777,879.4 778,880.5 779,881.3 780,880.7 781,880.5 782,879.6 783,879.2 784,880.7 785,879.6 786,879.3 787,880.8 788,881.4 789,881.1 790,878.6 791,880.7 792,879.9 793,878.3 794,880.7 795,879.6 796,879.3 797,877.6 798,878.9 799,878.2 800,878.7 801,877.9 802,874.3 803,876.4 804,875.1 805,874.9 806,878.3 807,879.2 808,879.5 809,877.7 810,879.8 811,880.6 812,880.8 813,878.8 814,880.5 815,878 816,880.6 817,879.6 818,879.8 819,880.1 820,878.3 821,878.2 822,877.5 823,879.6 824,877.2 825,877.1 826,879 827,878.4 828,879.8 829,876.8 830,877.8 831,876.4 832,878.1 833,878.3 834,877.9 835,874.5 836,875.9 837,874.6 838,872.2 839,872.1 840,871.5 841,869.6 842,866.3 843,862.2 844,860.3 845,857.9 845.8,857.3 846,857.4 847,858.9 848,861.9 849,863.1 850,867 851,870.6 852,870.3 853,871.2 854,873.2 855,873.6 856,875.7 857,875.4 858,877.5 859,877.8 860,876.8 861,878.9 862,879 863,879.4 864,879.7 865,879.6 866,879.9 867,878.5 868,880.3 869,878.1 870,879.4 871,877.4 872,880.6 873,879.6 874,877.6 875,880.5 876,879.4 877,878.6 878,878.8 879,880.1 880,879.8 881,877 882,877.1 883,876.5 884,875.5 885,875.4 886,876.4 887,876.5 888,877.1 889,877.7 890,877.8 891,879 892,876.6 893,880 894,878.6 895,879.9 896,879.6 897,880.3 898,880.1 899,878.6 900,879.8 901,878.4 902,881 903,880.7 904,879.3 905,879.5 906,879.5 907,878.9 908,880.2 909,880.7 910,879.7 911,879.9 912,881.3 913,880.8 914,879.1 915,879.4 916,881.5 917,880.7 918,879.2 919,880.2 920,879.9 921,880.6 922,881.4 923,881.2 924,879.7 925,879.5 926,879 927,879.6 928,880.7 929,880.8 930,880.3 931,881 932,879.1 933,879.3 934,879.3 935,880.9 936,880.7 937,879.9 938,881.4 939,879.6 940,881.5 941,881.5 942,879.3 943,880.8 944,880.6 945,879.5 946,879.5 947,879 948,879.9 949,881 950,879.7 951,881 952,879.7 953,880.7 954,879.6 955,880.4 956,880.5 957,880 958,879.4 959,878.7 960,878.9 961,880.2 962,879.9 963,878.5 964,880.4 965,878.5 966,878.7 967,880.8 968,879.4 969,879.3 970,879.9 971,879.4 972,878.8 973,880.7 974,879.7 975,879.1 976,878.8 977,879.1 978,879.7 979,878.2 980,877.6 981,877 982,879.1 983,879.2 984,878.3 985,877.3 986,877.1 987,876.6 988,874.4 989,874.5 990,873.9 991,872.4 992,872.2 993,872 994,869.7 995,866.1 996,863.2 997,860.2 998,853 999,843.3 1000,832 1001,820.1 1001.7,817 1002,817.6 1003,826.7 1004,839.8 1005,848.6 1006,856.7 1007,860.6 1008,864.9 1009,867.5 1010,871.3 1011,872.2 1012,871.9 1013,872.6 1014,873.5 1015,875 1016,876.2 1017,877.3 1018,876.5 1019,875.9 1020,875.9 1021,877.6 1022,878.1 1023,878.5 1024,876.7 1025,876.5 1026,876.6 1027,877.6 1028,878.3 1029,876.8 1030,876.2 1031,875.5 1032,875.9 1033,874.6 1034,874.8 1035,873.5 1036,873.4 1037,871.8 1038,873.4 1039,874 1040,875.4 1041,875.2 1042,875.6 1043,876.4 1044,878.2 1045,879.3 1046,878.6 1047,878.9 1048,879 1049,880.4 1050,878.9 1051,878.1 1052,879.2 1053,879.1 1054,878.9 1055,879.4 1056,880.4 1057,881.3 1058,878.6 1059,879.1 1060,879.3 1061,880.8 1062,879.6 1063,879.6 1064,880.3 1065,879.3 1066,880.3 1067,878.9 1068,879.7 1069,881.3 1070,880.3 1071,880.7 1072,879.7 1073,879.4 1074,881.3 1075,880.3 1076,879.9 1077,880.6 1078,881.2 1079,881 1080,879.7 1081,881.5 1082,880.2 1083,880 1084,879.4 1085,881.7 1086,880.6 1087,880.6 1088,881.6 1089,879.3 1090,879.9 1091,879.3 1092,880.4 1093,879.2 1094,881.6 1095,880.5 1096,881.4 1097,881.5 1098,881.6 1099,880 1100,880.9 1101,880.9 1102,881.7 1103,879.9 1104,880.9 1105,881.3 1106,880.6 1107,879.3 1108,881.3 1109,879.2 1110,880.3 1111,879.9 1112,880.3 1113,881.5 1114,881.6 1115,881.5 1116,881.3 1117,879.1 1118,880.6 1119,880.5 1120,880.8 1121,880.1 1122,881 1123,879.1 1124,881.1 1125,881.2 1126,880.1 1127,880.2 1128,878.9 1129,880.8 1130,880.7 1131,878.7 1132,879.6 1133,878.5 1134,880.5 1135,879.6 1136,879.5 1137,878.2 1138,878.2 1139,875.8 1140,875.2 1141,873.8 1142,872.4 1143,869.4 1144,868.2 1145,870.6 1146,871.9 1147,873.6 1148,875.1 1149,877.8 1150,877.3 1151,877.6 1152,877.8 1153,878.8 1154,878.7 1155,879.2 1156,879.5 1157,879.6 1158,878.3 1159,878.6 1160,879.2 1161,878.7 1162,876.9 1163,877.4 1164,876.6 1165,876.6 1166,875 1167,875.2 1168,874.3 1169,874 1170,873.9 1171,873.3 1172,873.6 1173,873.9 1174,876.1 1175,877.3 1176,876.3 1177,877.3 1178,877.2 1179,879.3 1180,879.2 1181,880.1 1182,879.1 1183,878.8 1184,879.5 1185,879.2 1186,879.4 1187,880.4 1188,880 1189,879.2 1190,879.6 1191,880.8 1192,880.4 1193,881 1194,880.9 1195,879.1 1196,879.7 1197,880.7 1198,879.9 1199,880.2 1200,880.8 1201,879.7 1202,879.2 1203,879.6 1204,880.1 1205,880.5 1206,879.2 1207,879.4 1208,880.8 1209,880.9 1210,880.6 1211,880.8 1212,880.1 1213,881.3 1214,879.4 1215,881.1 1216,880.8 1217,880.9 1218,881.4 1219,879.8 1220,879.9 1221,880.2 1222,879.6 1223,880.1 1224,880.2 1225,879.9 1226,881 1227,879.5 1228,880.7 1229,880.6 1230,879.8 1231,881.1 1232,880.9 1233,879.1 1234,879.5 1235,880.1 1236,880.7 1237,880.5 1238,880.3 1239,880.3 1240,879.8 1241,880.6 1242,878.6 1243,879.9 1244,879.6 1245,879.4 1246,878.2 1247,878.2 1248,879.6 1249,879.2 1250,878.9 1251,878.8 1252,877.4 1253,878.5 1254,879.2 1255,878.2 1256,878.6 1257,876.2 1258,877.9 1259,876.5 1260,876.2 1261,876.3 1262,874.3 1263,874.4 1264,873.8 1265,873 1266,870.7 1267,868.4 1268,866 1269,862.6 1270,859.1 1271,853.1 1272,847.7 1273,837.2 1274,827.2 1275,822.3 1276,826.8 1277,836.6 1278,847.5 1279,855.1 1280,858.8 1281,864.1 1282,866.3 1283,868 1284,870 1285,871.8 1286,872.3 1287,874.9 1288,875.6 1289,875.7 1290,875.4 1291,877 1292,877.1 1293,877.9 1294,878.6 1295,878.6 1296,878.9 1297,879 1298,879.3 1299,878 1300,879.1 1301,878.9 1302,878.4 1303,879.6 1304,880.1 1305,879.9 1306,878.7 1307,879.1 1308,880.6 1309,878.9 1310,879.7 1311,879.3 1312,879.2 1313,880.6 1314,879.1 1315,880.8 1316,879.8 1317,880.4 1318,879.7 1319,880.7 1320,880.2 1321,880.9 1322,880.5 1323,881.2 1324,880.2 1325,879.7 1326,879.4 1327,880.6 1328,880.8 1329,880.6 1330,879.3 1331,880.9 1332,881.4 1333,880.4 1334,880.2 1335,879.5 1336,881.6 1337,880.2 1338,879.5 1339,880 1340,879.8 1341,881.6 1342,881.3 1343,881.5 1344,880 1345,879.6 1346,880 1347,881 1348,880 1349,880.3 1350,880.9 1351,880.6 1352,879.8 1353,880.2 1354,880.1 1355,880.7 1356,879.7 1357,880 1358,879.9 1359,880.1 1360,880.4 1361,879.9 1362,880.1 1363,880.7 1364,880.7 1365,881.5 1366,881.7 1367,880.3 1368,880.3 1369,880.9 1370,880.1 1371,879.8 1372,881.6 1373,879.6 1374,879.9 1375,881.6 1376,881.2 1377,881.2 1378,880.7 1379,880.9 1380,881.2 1381,880.7 1382,881.8 1383,881.5 1384,880.2 1385,881.6 1386,880.7 1387,880.5 1388,880.9 1389,881.8 1390,881.2 1391,880.6 1392,880.8 1393,880.4 1394,881.4 1395,880.3 1396,881.4 1397,880.4 1398,881.7 1399,881.3 1400,879.9 1401,880.2 1402,880.5 1403,880.5 1404,880.7 1405,880.7 1406,881.2 1407,880.4 1408,879.6 1409,880.9 1410,879.3 1411,880 1412,879.2 1413,881.2 1414,880.4 1415,879.6 1416,879.8 1417,878.8 1418,878.4 1419,878.2 1420,877.7 1421,877.9 1422,877.6 1423,877.6 1424,876.7 1425,877.8 1426,876.4 1427,876.8 1428,878.2 1429,878.8 1430,878.5 1431,878.5 1432,880.3 1433,879 1434,879.4 1435,880.6 1436,881.2 1437,880.3 1438,880.6 1439,880 1440,879.6 1441,881.4 1442,881 1443,880.5 1444,881.5 1445,880.6 1446,880.3 1447,879.9 1448,879.8 1449,881.2 1450,881.5 1451,879.7 1452,879.7 1453,881.3 1454,879.7 1455,880.8 1456,881.6 1457,879.6 1458,879.7 1459,881.2 1460,879.9 1461,880.3 1462,881.3 1463,880.5 1464,879.5 1465,881.6 1466,880.7 1467,879.4 1468,881.5 1469,879.9 1470,880.2 1471,881.3 1472,881.1 1473,881.4 1474,880.7 1475,881.4 1476,879.5 1477,880.5 1478,880.3 1479,880.2 1480,880.9 1481,881 1482,879.2 1483,880.4 1484,879.6 1485,879.3 1486,879.7 1487,879.2 1488,880.7 1489,880.3 1490,880.5 1491,878.9 1492,879.3 1493,878.9 1494,879.7 1495,878.5 1496,879.3 1497,878.9 1498,878.2 1499,879.1 1500,878.5 1501,878.7 1502,877.7 1503,877.7 1504,875.7 1505,876.8 1506,874.7 1507,874.9 1508,872.6 1509,872 1510,869.8 1511,869 1512,867.2 1513,863.7 1514,862.8 1514.7,862.3 1515,862.4 1516,863.2 1517,864.8 1518,868.1 1519,869.5 1520,871.4 1521,873.3 1522,873.2 1523,875.3 1524,875.6 1525,876.1 1526,875.7 1527,877.4 1528,878.5 1529,877.7 1530,879.2 1531,877.4 1532,878.5 1533,879.7 1534,878.9 1535,878.4 1536,879.2 1537,880.1 1538,879.4 1539,880.6 1540,879.3 1541,879.2 1542,880.9 1543,880.9 1544,879.9 1545,879.3 1546,880.9 1547,879.2 1548,881.2 1549,879.3 1550,879.7 1551,881.1 1552,879.5 1553,879.6 1554,879.8 1555,881.3 1556,880.4 1557,881 1558,880 1559,881.1 1560,881.2 1561,880.2 1562,880.8 1563,881.4 1564,880.6 1565,881 1566,879.7 1567,881 1568,881.3 1569,880.1 1570,881.5 1571,880 1572,879.6 1573,879.9 1574,879.7 1575,881.4 1576,880.8 1577,880.9 1578,881.5 1579,879.7 1580,880.6 1581,880.3 1582,880.6 1583,880.4 1584,879.7 1585,880 1586,880 1587,881.5 1588,879.9 1589,880.7 1590,880.8 1591,880.8 1592,879.8 1593,880.4 1594,881.7 1595,880.6 1596,880.8 1597,880.8 1598,880.5 1599,879.8 1600,880.9 1601,881.7 1602,881.6 1603,880.3 1604,880.7 1605,880.1 1606,880.8 1607,881.3 1608,880.8 1609,879.9 1610,880.2 1611,879.5 1612,880.3 1613,880.1 1614,879.4 1615,880.8 1616,880.5 1617,880 1618,879.8 1619,879.2 1620,880.1 1621,880 1622,879.4 1623,878.9 1624,879.3 1625,878.7 1626,879 1627,877 1628,878.6 1629,878.2 1630,878.1 1631,876 1632,877.2 1633,877.1 1634,877.5 1635,878.5 1636,879.5 1637,879.2 1638,879.9 1639,880.4 1640,879.4 1641,878.9 1642,879.7 1643,880.2 1644,879.4 1645,880.7 1646,880.5 1647,880.5 1648,879.6 1649,881.6 1650,879.5 1651,879.8 1652,881.5 1653,881.6 1654,881.4 1655,881.5 1656,879.7 1657,881.8 1658,881.6 1659,881 1660,881.4 1661,880.2 1662,881 1663,880.6 1664,881 1665,880.6 1666,881.8 1667,880.6 1668,880.4 1669,880.9 1670,881.4 1671,880 1672,880.8 1673,881.9 1674,880.2 1675,880.8 1676,881.8 1677,881.5 1678,881 1679,880.9 1680,879.9 1681,879.7 1682,881.9 1683,880.6 1684,880.2 1685,880.4 1686,881.6 1687,880.6 1688,881.3 1689,879.7 1690,881.4 1691,880.5 1692,881 1693,881.2 1694,879.8 1695,881 1696,880.5 1697,880.4 1698,880.3 1699,881.4 1700,879.5 1701,880.4 1702,879.6 1703,880.6 1704,879.8 1705,880.5 1706,881.4 1707,881.2 1708,879.6 1709,880.2 1710,879.4 1711,879.6 1712,880.8 1713,880.3 1714,879.5 1715,880.1 1716,880.8 1717,879.3 1718,879.8 1719,879.7 1720,878.5 1721,880.5 1722,878.6 1723,878.6 1724,878.3 1725,879.4 1726,879 1727,877.7 1728,877.2 1729,877.9 1730,876.8 1731,877.5 1732,875.5 1733,875.2 1734,874.7 1735,874.4 1736,873.9 1737,872.5 1738,870 1739,867.8 1740,866.5 1741,865.3 1741.5,865.3 1742,865.4 1743,866.4 1744,868.4 1745,870.7 1746,870.7 1747,873.5 1748,874.4 1749,875.9 1750,875.3 1751,876.5 1752,877.8 1753,877.3 1754,877.9 1755,879.3 1756,879 1757,877.8 1758,880 1759,880.2 1760,879.4 1761,880.1 1762,878.8 1763,880.1 1764,880.6 1765,880.5 1766,879.1 1767,879.8 1768,881.1 1769,880.7 1770,880.4 1771,880.2 1772,880.4 1773,880 1774,881.1 1775,880 1776,881.2 1777,880.4 1778,881.1 1779,880.4 1780,880 1781,879.7 1782,881.1 1783,879.9 1784,880.8 1785,881.7 1786,881.2 1787,881.7 1788,881.3 1789,880 1790,880.6 1791,881.7 1792,879.9 1793,880.5 1794,880.9 1795,880.9 1796,881.3 1797,881.1 1798,881.6 1799,881.9 1800,881.9 1801,880.3 1802,880.4 1803,880.2 1804,881.3 1805,881.7 1806,881.7 1807,881.6 1808,880.1 1809,881.2 1810,880.1 1811,881.4 1812,880.3 1813,881.6 1814,880.8 1815,881.2 1816,881 1817,881 1818,881 1819,881" stroke="#0000ff" stroke-width="8.6"/>
<polyline points="128,1069 129,1069 130,1069 131,1069 132,1068.4 133,1069.8 134,1070.1 135,1067.3 136,1067.8 137,1070.5 138,1067.7 139,1069.6 140,1068.4 141,1069.6 142,1070.4 143,1069.4 144,1068.7 145,1068.5 146,1069.5 147,1069.6 148,1068.8 149,1069 150,1069.3 151,1068.3 152,1068 153,1069.4 154,1067.7 155,1069.5 156,1070.3 157,1070.4 158,1068.3 159,1068.9 160,1070.8 161,1068.7 162,1071 163,1068.2 164,1070.5 165,1067.6 166,1069.9 167,1070.4 168,1069.5 169,1069.8 170,1070.8 171,1071.1 172,1068.2 173,1069.4 174,1067.7 175,1068.9 176,1068.1 177,1068.2 178,1069.8 179,1067.9 180,1068.2 181,1067.6 182,1070.6 183,1068.5 184,1067.9 185,1069.9 186,1070.2 187,1069.9 188,1069.6 189,1069.6 190,1070.3 191,1068.8 192,1070.7 193,1070.2 194,1070.8 195,1070.9 196,1070.8 197,1069.6 198,1069.6 199,1070.4 200,1069.9 201,1067.9 202,1071.1 203,1068.5 204,1069.6 205,1069.4 206,1068.2 207,1069.9 208,1070 209,1070.8 210,1070.1 211,1069 212,1069.9 213,1071.3 214,1070.2 215,1070.9 216,1068 217,1070.4 218,1068.7 219,1068.5 220,1069.1 221,1068.6 222,1068.3 223,1068.7 224,1068.8 225,1068.9 226,1070.9 227,1068.3 228,1068.7 229,1068.2 230,1069.9 231,1068.9 232,1070 233,1068.9 234,1068.8 235,1069.8 236,1068.3 237,1071.3 238,1070.1 239,1069.5 240,1070.1 241,1071.5 242,1069.9 243,1069.6 244,1068.9 245,1069.5 246,1071 247,1070.4 248,1069.2 249,1071.4 250,1068.7 251,1069.5 252,1071 253,1071.5 254,1069.9 255,1068.3 256,1070.3 257,1069.8 258,1068.4 259,1069.5 260,1071.5 261,1068.4 262,1069 263,1068.9 264,1071.2 265,1069.4 266,1070.8 267,1070.8 268,1068.4 269,1069.9 270,1068.8 271,1071.3 272,1070.2 273,1069.7 274,1071.3 275,1071.4 276,1068.7 277,1068.8 278,1069.6 279,1069.6 280,1070.1 281,1070 282,1072 283,1070.9 284,1072 285,1070.7 286,1069.4 287,1070.6 288,1069.1 289,1070.6 290,1069.1 291,1071.9 292,1069.7 293,1071.8 294,1069.4 295,1069.3 296,1069.5 297,1071.6 298,1071.6 299,1071.3 300,1070.7 301,1069.2 302,1069.5 303,1068.8 304,1072 305,1069.1 306,1071.3 307,1068.7 308,1069.7 309,1070.9 310,1069.4 311,1069 312,1072 313,1069.8 314,1068.8 315,1071.3 316,1072.3 317,1070.7 318,1068.9 319,1070.3 320,1071 321,1069.7 322,1070.3 323,1071.5 324,1071.2 325,1071.8 326,1072.3 327,1070.7 328,1072.4 329,1069.3 330,1070.7 331,1071.3 332,1072.2 333,1070.6 334,1070.5 335,1072.1 336,1070.6 337,1069.1 338,1070.6 339,1069.9 340,1071.3 341,1071.9 342,1069.1 343,1070.1 344,1072.2 345,1071.9 346,1071.8 347,1070.4 348,1072.4 349,1072.1 350,1072 351,1071 352,1071.3 353,1069.5 354,1069.2 355,1069.1 356,1069.3 357,1070.9 358,1072.5 359,1071.2 360,1071.9 361,1071.8 362,1072.5 363,1070.1 364,1070.9 365,1072.5 366,1070.3 367,1071.6 368,1070.6 369,1069.7 370,1069.9 371,1070.5 372,1069.3 373,1072.3 374,1070.4 375,1070 376,1072.1 377,1069.2 378,1071.9 379,1070.8 380,1069.5 381,1070.6 382,1072.7 383,1069.3 384,1070.2 385,1069.8 386,1071.3 387,1069.9 388,1072.3 389,1070.5 390,1072.6 391,1069.6 392,1070 393,1069.3 394,1069.3 395,1069.8 396,1071.3 397,1071.1 398,1071.8 399,1070 400,1071.3 401,1072.6 402,1070.2 403,1069.9 404,1069.7 405,1072.5 406,1071.3 407,1070.7 408,1070.7 409,1069.1 410,1069.6 411,1071.2 412,1069.6 413,1070.4 414,1071.7 415,1069 416,1069.9 417,1070.8 418,1070.5 419,1070.5 420,1070.5 421,1069 422,1067.2 423,1067.7 424,1068.4 425,1064.7 426,1063.7 427,1061.3 428,1060.7 429,1053.9 430,1048.2 431,1044.1 431.2,1043.9 432,1046.2 433,1052.8 434,1058.5 435,1061 436,1062.2 437,1066.1 438,1067 439,1069.1 440,1068.9 441,1067.1 442,1068 443,1068.7 444,1070.5 445,1069.3 446,1069.2 447,1069.2 448,1069.6 449,1070.6 450,1071.5 451,1072.1 452,1069.4 453,1071.1 454,1072.7 455,1070.7 456,1069.8 457,1071.7 458,1072.4 459,1069.6 460,1069.8 461,1070.6 462,1070.9 463,1070 464,1069.9 465,1071.2 466,1073.1 467,1071.7 468,1070.7 469,1073.2 470,1070.7 471,1070.2 472,1070.2 473,1069.8 474,1073.1 475,1071.7 476,1073.3 477,1071.7 478,1070 479,1071.1 480,1071 481,1070.3 482,1069.9 483,1072.1 484,1072.7 485,1072.8 486,1070.2 487,1071.5 488,1070 489,1071.9 490,1071.8 491,1068.1 492,1068.2 493,1069.9 494,1069.6 495,1068.4 496,1065.4 497,1067.8 498,1069.2 499,1069.2 500,1069.8 501,1071.2 502,1069 503,1071.1 504,1072.8 505,1071.5 506,1070.9 507,1070.2 508,1073 509,1072.3 510,1073.4 511,1073.5 512,1072.6 513,1073.2 514,1073.1 515,1072.8 516,1071.7 517,1072.7 518,1073.1 519,1071.2 520,1073.1 521,1072.5 522,1071.7 523,1071.9 524,1073.7 525,1070.6 526,1070.5 527,1072.2 528,1070.8 529,1073.5 530,1073.7 531,1071.7 532,1071.7 533,1072.8 534,1073.7 535,1072.8 536,1073.7 537,1071.7 538,1072.2 539,1073 540,1073.2 541,1071.9 542,1071.8 543,1073.6 544,1073 545,1072.5 546,1071.5 547,1071.9 548,1070.9 549,1071.5 550,1070.9 551,1071.4 552,1072.9 553,1072.6 554,1073.7 555,1072.7 556,1071.9 557,1071.9 558,1073.6 559,1070.7 560,1071.2 561,1072.3 562,1071.2 563,1072.1 564,1071.3 565,1072.9 566,1073.8 567,1072.1 568,1073.5 569,1070.7 570,1071.1 571,1071.2 572,1073.5 573,1071.7 574,1072.8 575,1073.8 576,1072.7 577,1072.2 578,1072.7 579,1073.1 580,1072.9 581,1072.7 582,1071.2 583,1074.2 584,1073.3 585,1073.9 586,1073.6 587,1071.5 588,1072.3 589,1072.9 590,1071.3 591,1073.6 592,1072.5 593,1072.8 594,1074 595,1071.8 596,1071.9 597,1072.8 598,1071 599,1071.6 600,1071.4 601,1074.1 602,1072.9 603,1073.5 604,1072.9 605,1071.7 606,1071.9 607,1073.9 608,1072.7 609,1072.7 610,1072 611,1073.7 612,1071.2 613,1073.5 614,1072.9 615,1072.9 616,1073.8 617,1072 618,1072.1 619,1071.6 620,1072.5 621,1073.1 622,1072.7 623,1070.7 624,1072.7 625,1069.9 626,1072 627,1070.2 628,1070.6 629,1071.4 630,1069.7 631,1071.7 632,1071.3 633,1071.6 634,1070.3 635,1071.4 636,1070.8 637,1069.8 638,1069.9 639,1068.2 640,1069 641,1067.5 642,1066.4 643,1067.5 644,1068 645,1065.6 646,1063.6 647,1064.2 648,1061.3 649,1061.3 650,1059.7 651,1055.3 652,1052.5 653,1049 654,1044.5 655,1037.5 656,1028.7 657,1013.6 658,995.1 659,964 660,924.7 661,878.8 662,841.1 662.5,835.3 663,840.8 664,877.9 665,925.3 666,963.4 667,993.9 668,1014.8 669,1026.5 670,1036.3 671,1043.2 672,1049 673,1053.7 674,1055.7 675,1057.3 676,1059.4 677,1064.1 678,1064.4 679,1063.6 680,1065.6 681,1067.6 682,1066.9 683,1068.5 684,1070.2 685,1068.3 686,1069 687,1068.3 688,1070.5 689,1070 690,1070.4 691,1069.8 692,1071.1 693,1071.1 694,1072.3 695,1071.9 696,1069.4 697,1069.6 698,1070.5 699,1069.7 700,1069.5 701,1069.3 702,1071.3 703,1068.2 704,1070.2 705,1068.5 706,1068.9 707,1067.6 708,1066.8 709,1067.8 710,1070.3 711,1070.5 712,1070.7 713,1070.4 714,1072 715,1070.2 716,1071.7 717,1071.5 718,1071.9 719,1073.5 720,1071.3 721,1071.8 722,1072.9 723,1072.1 724,1074.3 725,1072.7 726,1071.2 727,1072.2 728,1072.3 729,1072.8 730,1071.4 731,1074.7 732,1072.9 733,1074 734,1073.1 735,1073.1 736,1072.6 737,1074.7 738,1072.1 739,1073.4 740,1072.6 741,1072.7 742,1072 743,1075 744,1072.8 745,1074.2 746,1074.3 747,1074.9 748,1073.3 749,1073.4 750,1074.6 751,1073.7 752,1072.6 753,1073 754,1074.9 755,1072.9 756,1073.9 757,1074.5 758,1074.6 759,1074 760,1074.5 761,1075.2 762,1073.5 763,1073 764,1073.2 765,1074.4 766,1072.5 767,1074.8 768,1072.8 769,1072.4 770,1074.4 771,1073 772,1074.5 773,1072.5 774,1072.8 775,1073.5 776,1074.3 777,1073.7 778,1075.1 779,1075 780,1072.3 781,1074.7 782,1075.2 783,1072.8 784,1073.2 785,1073.7 786,1075.1 787,1072.6 788,1072.7 789,1074.6 790,1072.6 791,1074.7 792,1073.1 793,1074.8 794,1072.4 795,1072.4 796,1073.6 797,1073.4 798,1072.7 799,1070.6 800,1070.7 801,1070.3 802,1069.4 803,1070.1 804,1070.2 805,1070.9 806,1071.9 807,1072.3 808,1073.2 809,1072.2 810,1073.1 811,1072.8 812,1071.2 813,1072.5 814,1072.1 815,1072.2 816,1071.1 817,1073.8 818,1072 819,1072.7 820,1071.5 821,1072.4 822,1073.2 823,1072.7 824,1073 825,1072.5 826,1073.3 827,1071.9 828,1070.2 829,1069.7 830,1072.3 831,1070.7 832,1070.4 833,1070.2 834,1069.7 835,1067.6 836,1066.3 837,1066.1 838,1063.9 839,1062.4 840,1059.1 841,1057.2 842,1051.8 843,1044.2 844,1039.2 844.5,1038.3 845,1039 846,1043.8 847,1049.8 848,1055.8 849,1058.1 850,1060.9 851,1066 852,1064.9 853,1066.1 854,1068.7 855,1068.8 856,1070.2 857,1068.4 858,1068.8 859,1070.3 860,1072 861,1070.4 862,1071.4 863,1072.7 864,1072.6 865,1071.9 866,1070.9 867,1071.1 868,1071.2 869,1072.1 870,1073.9 871,1071.5 872,1073.1 873,1073.2 874,1072.1 875,1073.3 876,1071.1 877,1073.7 878,1070.6 879,1071.3 880,1070.1 881,1070.5 882,1069.6 883,1070.9 884,1069.9 885,1072 886,1070.6 887,1069.6 888,1072.4 889,1070 890,1072 891,1071.5 892,1071.5 893,1072.6 894,1071.4 895,1072.8 896,1073.1 897,1073.5 898,1073.9 899,1071.8 900,1074.2 901,1073 902,1073.2 903,1072 904,1073 905,1072.9 906,1074.4 907,1073.9 908,1074.7 909,1072.8 910,1072.7 911,1073.4 912,1072.2 913,1072.4 914,1073.3 915,1075.1 916,1074.6 917,1072.8 918,1072.1 919,1072.5 920,1072.4 921,1075 922,1073 923,1072.9 924,1074.9 925,1073.7 926,1073.9 927,1072.3 928,1072.3 929,1072.8 930,1073.1 931,1073.5 932,1074 933,1073.9 934,1073.2 935,1072.1 936,1072.7 937,1075.1 938,1073 939,1074.5 940,1073.1 941,1073.9 942,1072.3 943,1074.3 944,1073.1 945,1074.4 946,1074.6 947,1072.8 948,1074.1 949,1074.9 950,1073.3 951,1072.1 952,1073.5 953,1072.7 954,1072.6 955,1074.8 956,1072.1 957,1072.4 958,1073 959,1072.4 960,1072.2 961,1072.4 962,1073 963,1073.6 964,1074.3 965,1072.6 966,1071.5 967,1073.9 968,1073.1 969,1073.9 970,1073.4 971,1071 972,1072.7 973,1071.8 974,1072.3 975,1070.6 976,1070.3 977,1071.5 978,1071.2 979,1072.3 980,1070 981,1070.7 982,1070.2 983,1069.5 984,1069.6 985,1069.2 986,1068.1 987,1066.8 988,1065.3 989,1064 990,1064.2 991,1062.3 992,1060.1 993,1058.6 994,1054 995,1049.4 996,1043.5 997,1036.2 998,1023.7 999,1012.8 999.9,1008.7 1000,1008.8 1001,1015 1002,1026.3 1003,1037.8 1004,1045.2 1005,1051.6 1006,1053.9 1007,1058.6 1008,1060 1009,1062.2 1010,1063.8 1011,1065.3 1012,1065.1 1013,1066.7 1014,1066.6 1015,1068.7 1016,1067.9 1017,1068.1 1018,1070.7 1019,1069.7 1020,1069.1 1021,1069.8 1022,1071.5 1023,1071.2 1024,1071 1025,1069.4 1026,1069.6 1027,1069.3 1028,1069.6 1029,1069.7 1030,1069 1031,1069.2 1032,1067.1 1033,1066.5 1034,1067.6 1035,1066.6 1036,1066.4 1037,1065.9 1038,1067 1039,1067.3 1040,1069.8 1041,1068.5 1042,1070.3 1043,1070.6 1044,1071.3 1045,1070.1 1046,1072.2 1047,1073.2 1048,1072.9 1049,1071.2 1050,1073 1051,1072.2 1052,1073.2 1053,1072.9 1054,1074.2 1055,1072.1 1056,1074.4 1057,1073.2 1058,1074.6 1059,1073.8 1060,1074.7 1061,1072.4 1062,1072.8 1063,1072.7 1064,1073.6 1065,1074 1066,1072.5 1067,1074 1068,1074 1069,1074.3 1070,1072.7 1071,1073 1072,1073.9 1073,1072.6 1074,1072.8 1075,1072.7 1076,1074.7 1077,1075 1078,1074.3 1079,1074.7 1080,1074.7 1081,1073.3 1082,1074.7 1083,1073.9 1084,1074.7 1085,1074.2 1086,1072.7 1087,1074.6 1088,1074.8 1089,1074.9 1090,1072.8 1091,1074.4 1092,1073.9 1093,1072.8 1094,1074.7 1095,1074.4 1096,1073.5 1097,1074.2 1098,1073.9 1099,1072.9 1100,1074 1101,1074.8 1102,1074.1 1103,1073.9 1104,1072.7 1105,1073.3 1106,1073.2 1107,1074 1108,1073.2 1109,1074.1 1110,1072.8 1111,1073.5 1112,1073.6 1113,1073.2 1114,1075 1115,1074.6 1116,1072.5 1117,1072.5 1118,1073.8 1119,1074.1 1120,1074.3 1121,1073.4 1122,1074.8 1123,1072.5 1124,1072.3 1125,1073.3 1126,1072.6 1127,1074.5 1128,1073.9 1129,1074 1130,1071.6 1131,1071.4 1132,1071.7 1133,1071.1 1134,1071.4 1135,1070.1 1136,1070.7 1137,1069.6 1138,1067.3 1139,1065.9 1140,1063.5 1141,1064.2 1142,1062.3 1143,1064.9 1144,1066 1145,1067.4 1146,1069.5 1147,1069.1 1148,1071.4 1149,1071.4 1150,1071.7 1151,1072.9 1152,1073.2 1153,1072.5 1154,1072.4 1155,1073.7 1156,1072.1 1157,1071.8 1158,1072.5 1159,1072.3 1160,1072.8 1161,1072.8 1162,1073.2 1163,1071.3 1164,1071.6 1165,1072 1166,1069.9 1167,1071.2 1168,1069 1169,1069.3 1170,1067.3 1171,1068.4 1172,1066.7 1173,1068 1174,1069.1 1175,1068 1176,1070.2 1177,1070.1 1178,1071.4 1179,1072.5 1180,1071.1 1181,1071.3 1182,1072.8 1183,1072.1 1184,1073.6 1185,1072.4 1186,1072.5 1187,1072.3 1188,1073.8 1189,1074.7 1190,1074.3 1191,1073.4 1192,1073.9 1193,1074.8 1194,1073.9 1195,1074.4 1196,1073.7 1197,1072.9 1198,1074.7 1199,1073.9 1200,1075 1201,1073.9 1202,1073.6 1203,1073.5 1204,1073.6 1205,1073.8 1206,1074.8 1207,1073.6 1208,1073.2 1209,1074.9 1210,1072.8 1211,1073.7 1212,1074.7 1213,1074.7 1214,1072.7 1215,1073.2 1216,1073.7 1217,1073.4 1218,1073.6 1219,1073.9 1220,1072.9 1221,1074.8 1222,1072.5 1223,1074.3 1224,1073.1 1225,1074.6 1226,1072.9 1227,1073.1 1228,1073.3 1229,1074.6 1230,1074.6 1231,1073.1 1232,1073.1 1233,1073.5 1234,1072.9 1235,1073.8 1236,1072.2 1237,1072.2 1238,1073.1 1239,1072.1 1240,1074.1 1241,1072.9 1242,1073.5 1243,1072.8 1244,1073.2 1245,1072 1246,1072.9 1247,1072.1 1248,1072.9 1249,1070.6 1250,1072.3 1251,1070.7 1252,1071.6 1253,1071.9 1254,1070.2 1255,1070.2 1256,1070.1 1257,1069 1258,1068.1 1259,1066.9 1260,1068 1261,1065.2 1262,1065.3 1263,1064.2 1264,1062.7 1265,1061.1 1266,1057.2 1267,1054.9 1268,1049.7 1269,1043.8 1270,1036.2 1271,1023.4 1272,1010.9 1273,1001 1273.4,999.9 1274,1002.2 1275,1013.5 1276,1026.3 1277,1037.3 1278,1045.4 1279,1050.9 1280,1054.5 1281,1057.3 1282,1060 1283,1061.9 1284,1063.6 1285,1065.5 1286,1066.7 1287,1067.4 1288,1068.6 1289,1068.3 1290,1068.7 1291,1070.8 1292,1070 1293,1069.5 1294,1069.9 1295,1072.1 1296,1071.6 1297,1071.3 1298,1071.9 1299,1072.8 1300,1073.2 1301,1072.6 1302,1073.3 1303,1072.6 1304,1072.7 1305,1071.9 1306,1073.2 1307,1073.1 1308,1073.1 1309,1072.1 1310,1072.2 1311,1072.8 1312,1073.6 1313,1072.5 1314,1074.2 1315,1073.6 1316,1072.8 1317,1073.6 1318,1072.6 1319,1072.6 1320,1073.7 1321,1073.5 1322,1073.3 1323,1074.8 1324,1074 1325,1072.8 1326,1073.8 1327,1074.3 1328,1074 1329,1075 1330,1074.6 1331,1074.9 1332,1072.9 1333,1074.3 1334,1073.4 1335,1073.2 1336,1073.6 1337,1073.1 1338,1074.8 1339,1074.1 1340,1074.2 1341,1074 1342,1074.7 1343,1074.9 1344,1074.2 1345,1073.6 1346,1075.2 1347,1074.5 1348,1074.6 1349,1074.5 1350,1073.9 1351,1074.9 1352,1073.1 1353,1073.8 1354,1075.3 1355,1075.3 1356,1073.8 1357,1073.3 1358,1073.6 1359,1075.1 1360,1074.7 1361,1073.2 1362,1073.7 1363,1075 1364,1074.2 1365,1073.4 1366,1073.5 1367,1075.3 1368,1074.4 1369,1074.6 1370,1073.7 1371,1074.1 1372,1074.1 1373,1075.1 1374,1074 1375,1073.4 1376,1074.6 1377,1074.9 1378,1074.8 1379,1075.3 1380,1075.3 1381,1074.7 1382,1073.9 1383,1074.4 1384,1074.5 1385,1074.5 1386,1074.7 1387,1074.8 1388,1074.3 1389,1074.3 1390,1075.3 1391,1074 1392,1074.5 1393,1074.1 1394,1073.3 1395,1075.1 1396,1073.7 1397,1073.3 1398,1073.6 1399,1074.4 1400,1074.2 1401,1073.5 1402,1074.3 1403,1073.6 1404,1073.9 1405,1074.7 1406,1074.7 1407,1073.9 1408,1073.8 1409,1074.4 1410,1073.8 1411,1072.5 1412,1072.4 1413,1073.5 1414,1072.8 1415,1073.1 1416,1073.5 1417,1071.9 1418,1071.6 1419,1071.1 1420,1070.8 1421,1072.1 1422,1071.8 1423,1072.4 1424,1070.5 1425,1072.5 1426,1072.5 1427,1071 1428,1071.7 1429,1071.5 1430,1072.4 1431,1071.9 1432,1072.6 1433,1074.1 1434,1073.8 1435,1073.4 1436,1074.6 1437,1072.7 1438,1072.8 1439,1074.1 1440,1073.5 1441,1073.8 1442,1073.2 1443,1074.6 1444,1073 1445,1074.6 1446,1073.8 1447,1074.5 1448,1073.9 1449,1074.1 1450,1073.6 1451,1073.7 1452,1074.6 1453,1074.2 1454,1074.6 1455,1074.5 1456,1074.6 1457,1074.6 1458,1073.3 1459,1074.7 1460,1075.1 1461,1073.9 1462,1074.6 1463,1073.4 1464,1073.3 1465,1075 1466,1074.2 1467,1074.2 1468,1073.1 1469,1075.2 1470,1072.9 1471,1074.9 1472,1074.2 1473,1073.2 1474,1074 1475,1073.6 1476,1074.5 1477,1074.6 1478,1074.7 1479,1074.4 1480,1072.7 1481,1073.3 1482,1073.1 1483,1074.2 1484,1074 1485,1073 1486,1074.6 1487,1072.5 1488,1072.8 1489,1073.3 1490,1074.2 1491,1072.6 1492,1071.9 1493,1072 1494,1073.4 1495,1072.6 1496,1071.5 1497,1072.3 1498,1072.8 1499,1071.6 1500,1071.1 1501,1069.7 1502,1070.7 1503,1068.7 1504,1068.2 1505,1069 1506,1067.9 1507,1065.7 1508,1064.4 1509,1061.5 1510,1059.8 1511,1056.5 1512,1053.9 1513,1051.9 1513.4,1051.7 1514,1052.2 1515,1054 1516,1056.6 1517,1060.5 1518,1062.7 1519,1063.8 1520,1066.2 1521,1067.4 1522,1068.7 1523,1068.5 1524,1070.1 1525,1070.6 1526,1070.8 1527,1070.9 1528,1070.7 1529,1072.4 1530,1071.3 1531,1072.4 1532,1072.2 1533,1073.3 1534,1073.5 1535,1073.1 1536,1072.5 1537,1073 1538,1072.4 1539,1073.5 1540,1073.5 1541,1073.9 1542,1073.5 1543,1073.1 1544,1073.3 1545,1073.2 1546,1074.7 1547,1073.9 1548,1074.6 1549,1073.2 1550,1073.9 1551,1073.9 1552,1074 1553,1074 1554,1075.2 1555,1073.7 1556,1075.1 1557,1075.3 1558,1075 1559,1074.4 1560,1075 1561,1074.3 1562,1075.1 1563,1074.8 1564,1075.1 1565,1073.7 1566,1074.5 1567,1074.2 1568,1074.6 1569,1073.9 1570,1074 1571,1074 1572,1073.8 1573,1074 1574,1075.5 1575,1073.8 1576,1074.5 1577,1075 1578,1074.8 1579,1074.2 1580,1075 1581,1073.9 1582,1075.3 1583,1074.5 1584,1074.6 1585,1074.8 1586,1073.5 1587,1074.1 1588,1075.1 1589,1073.3 1590,1074.5 1591,1075 1592,1073.9 1593,1074.4 1594,1073.7 1595,1075.5 1596,1074.8 1597,1075 1598,1075.4 1599,1075.2 1600,1074.6 1601,1073.5 1602,1073.2 1603,1074.6 1604,1073.3 1605,1075.1 1606,1073.9 1607,1074.8 1608,1074.1 1609,1074.9 1610,1073.1 1611,1073.3 1612,1074.9 1613,1074 1614,1073.4 1615,1074.3 1616,1073.2 1617,1074.4 1618,1072 1619,1073.6 1620,1071.6 1621,1072.2 1622,1070.7 1623,1070.2 1624,1071.5 1625,1070.4 1626,1069.8 1627,1069.7 1628,1068.8 1629,1069.7 1630,1071.5 1631,1071.6 1632,1072.1 1633,1071.6 1634,1073.3 1635,1072.5 1636,1073.8 1637,1072.5 1638,1072.7 1639,1073.6 1640,1073.7 1641,1074.4 1642,1072.5 1643,1073.2 1644,1074.5 1645,1072.6 1646,1074.3 1647,1072.6 1648,1073.1 1649,1072.4 1650,1071.6 1651,1073.1 1652,1071.3 1653,1071.8 1654,1070.6 1655,1072.2 1656,1072.6 1657,1072.8 1658,1072.7 1659,1073.5 1660,1073.7 1661,1074.4 1662,1072.6 1663,1072.8 1664,1074.5 1665,1074.5 1666,1075 1667,1074.2 1668,1075.1 1669,1073.9 1670,1073.7 1671,1074 1672,1074.2 1673,1074.8 1674,1075.2 1675,1073.4 1676,1074.2 1677,1073.6 1678,1073.8 1679,1073.3 1680,1074.1 1681,1074.4 1682,1073.5 1683,1075.4 1684,1073.9 1685,1075.5 1686,1075.4 1687,1074.7 1688,1075.2 1689,1075 1690,1074.2 1691,1074.6 1692,1074 1693,1075.2 1694,1075.3 1695,1073.6 1696,1073.5 1697,1075.1 1698,1073.1 1699,1074.5 1700,1075 1701,1073.4 1702,1075 1703,1073.8 1704,1074.5 1705,1073.1 1706,1074 1707,1074.9 1708,1072.8 1709,1073.7 1710,1074 1711,1073.1 1712,1073 1713,1074.2 1714,1074.3 1715,1073.5 1716,1072.8 1717,1072.9 1718,1072.1 1719,1071.7 1720,1071.7 1721,1072.7 1722,1072.8 1723,1072.4 1724,1072.3 1725,1070.8 1726,1070.3 1727,1070 1728,1069.5 1729,1068.6 1730,1068.3 1731,1066 1732,1065.2 1733,1063.8 1734,1062.4 1735,1059.5 1736,1055.7 1737,1052.6 1738,1051 1738.2,1050.9 1739,1051.5 1740,1054.5 1741,1056.8 1742,1060.8 1743,1061.9 1744,1065.1 1745,1065.6 1746,1066.7 1747,1067.8 1748,1069.3 1749,1069.3 1750,1071 1751,1072 1752,1071.9 1753,1071.7 1754,1071.3 1755,1071.8 1756,1072.4 1757,1073.7 1758,1073.2 1759,1072.6 1760,1072.1 1761,1073.1 1762,1073.1 1763,1074.1 1764,1074.4 1765,1073.5 1766,1074 1767,1074.1 1768,1073.1 1769,1074.7 1770,1075 1771,1074.6 1772,1073.1 1773,1073.3 1774,1074.1 1775,1074.5 1776,1074.5 1777,1073.7 1778,1074.5 1779,1073.8 1780,1073.4 1781,1074 1782,1074.2 1783,1074.5 1784,1074.1 1785,1074 1786,1073.9 1787,1074.7 1788,1075.6 1789,1074.9 1790,1074.8 1791,1074.3 1792,1074.5 1793,1075.5 1794,1074.5 1795,1074.7 1796,1075 1797,1073.9 1798,1073.8 1799,1075.1 1800,1074.5 1801,1075.6 1802,1074.3 1803,1073.6 1804,1073.9 1805,1075.5 1806,1074.5 1807,1074.5 1808,1075.5 1809,1074.1 1810,1074.4 1811,1074.6 1812,1075.1 1813,1074.4 1814,1075.6 1815,1074.1 1816,1074.8 1817,1074.8 1818,1074.8 1819,1074.8" stroke="#ff0000" stroke-width="8.6"/>
<polyline points="128,1272.9 129,1272.9 130,1272.9 131,1272.9 132,1272.2 133,1273.9 134,1272.3 135,1271.7 136,1272.4 137,1273.8 138,1271.7 139,1273.5 140,1272.4 141,1271.8 142,1272.7 143,1272.6 144,1272.8 145,1274.4 146,1274.5 147,1272 148,1274.8 149,1273.4 150,1274.7 151,1274.2 152,1273.2 153,1272.2 154,1274.6 155,1274.9 156,1273.5 157,1271.7 158,1274.3 159,1274.1 160,1274.5 161,1274.9 162,1274.9 163,1274 164,1272.8 165,1273.3 166,1273.2 167,1274.1 168,1273.7 169,1274.4 170,1273.3 171,1273.6 172,1274.9 173,1274.3 174,1274.8 175,1274 176,1271.9 177,1273 178,1272.5 179,1272.4 180,1272 181,1271.9 182,1273.3 183,1274.3 184,1274.7 185,1275 186,1273.7 187,1271.6 188,1272.3 189,1271.8 190,1274.7 191,1272.8 192,1274.2 193,1273.2 194,1273.7 195,1274.7 196,1274 197,1271.9 198,1273.9 199,1272.9 200,1275.2 201,1272.7 202,1272.6 203,1275 204,1273.2 205,1272 206,1274.6 207,1275 208,1273.5 209,1272.4 210,1274.9 211,1273 212,1272.7 213,1271.9 214,1275 215,1272.7 216,1272.2 217,1273.1 218,1274.4 219,1275.4 220,1272.6 221,1274.1 222,1272.8 223,1275 224,1273.6 225,1274.4 226,1274.9 227,1273.8 228,1273.6 229,1272 230,1272.5 231,1274.4 232,1274.7 233,1274 234,1272.1 235,1274.7 236,1275 237,1275.1 238,1274.7 239,1274.4 240,1273.3 241,1273.3 242,1272.7 243,1274.4 244,1273.3 245,1275 246,1272.9 247,1273 248,1272.4 249,1273.1 250,1274.9 251,1275.1 252,1275.4 253,1272.3 254,1274.6 255,1274.2 256,1273.4 257,1275.6 258,1274.6 259,1273.3 260,1275.2 261,1273.8 262,1273.9 263,1273.9 264,1273.9 265,1272.3 266,1275.2 267,1273.3 268,1273.9 269,1272.9 270,1274.3 271,1272.5 272,1272.4 273,1273.1 274,1275.5 275,1274.8 276,1274.9 277,1272.7 278,1274 279,1275 280,1275 281,1274 282,1272.7 283,1273.8 284,1275.8 285,1275.6 286,1274.6 287,1273.7 288,1274.6 289,1274.5 290,1274.1 291,1275.5 292,1274.5 293,1272.8 294,1275.1 295,1275 296,1272.9 297,1274.4 298,1276 299,1274.8 300,1275 301,1274.3 302,1274.1 303,1276.1 304,1273.6 305,1274.2 306,1272.9 307,1274.4 308,1275 309,1275.1 310,1276.1 311,1273.6 312,1273.4 313,1273.9 314,1273.8 315,1275.9 316,1273.4 317,1274.4 318,1276.3 319,1274.1 320,1274.3 321,1274.2 322,1273.9 323,1273.9 324,1275.7 325,1272.8 326,1273 327,1275.6 328,1275.4 329,1274.3 330,1274.5 331,1274.5 332,1273.7 333,1274.3 334,1274.1 335,1274.9 336,1274 337,1274.9 338,1273 339,1276.4 340,1272.9 341,1274.5 342,1274.2 343,1273.3 344,1276.4 345,1274.5 346,1273.5 347,1274.1 348,1273.6 349,1274.9 350,1276.5 351,1276.4 352,1273.7 353,1275.5 354,1274.9 355,1275.7 356,1273.5 357,1273.1 358,1273.4 359,1276.2 360,1273.1 361,1273.1 362,1274.6 363,1273.2 364,1273.6 365,1276.4 366,1273.6 367,1275.7 368,1276 369,1274.6 370,1274.5 371,1273.7 372,1274.1 373,1274.8 374,1274.9 375,1274.7 376,1274.1 377,1275.9 378,1274.3 379,1273.9 380,1274 381,1275.1 382,1273.8 383,1273.8 384,1273.5 385,1271.4 386,1272.9 387,1271.2 388,1273.2 389,1273.6 390,1273.6 391,1273 392,1275.5 393,1273.9 394,1274.1 395,1273.2 396,1275.9 397,1275.9 398,1273.5 399,1274.2 400,1273.9 401,1273.5 402,1275.8 403,1275 404,1276 405,1275.2 406,1273.9 407,1275.5 408,1273 409,1274.7 410,1274.3 411,1272.7 412,1273.3 413,1274 414,1272.5 415,1272.1 416,1273.9 417,1274.9 418,1273.2 419,1274.3 420,1272.1 421,1270.1 422,1269.6 423,1269.7 424,1269.9 425,1267.9 426,1265.8 427,1260.3 428,1254.5 429,1247.7 429.7,1245.7 430,1246.1 431,1251.1 432,1258.5 433,1263.9 434,1264.9 435,1266.7 436,1268.7 437,1268.9 438,1270.3 439,1273.7 440,1274.1 441,1272.7 442,1274.7 443,1272.5 444,1275.6 445,1274.3 446,1274.6 447,1273.5 448,1272.7 449,1274.7 450,1275.1 451,1275.5 452,1275.8 453,1276.4 454,1273.2 455,1275.7 456,1273.6 457,1276.4 458,1275.3 459,1273.4 460,1274.8 461,1276.5 462,1276.7 463,1276.8 464,1275.4 465,1276 466,1276 467,1275.4 468,1276.4 469,1274.2 470,1274.4 471,1275.8 472,1276.3 473,1277.2 474,1273.9 475,1277.2 476,1274.7 477,1274.9 478,1276.1 479,1277.2 480,1274.3 481,1274.9 482,1276.7 483,1276.5 484,1274.8 485,1274.2 486,1275.9 487,1273.6 488,1273.9 489,1272.2 490,1272.4 491,1272.6 492,1272.2 493,1272.8 494,1272.4 495,1271.5 496,1272.8 497,1272.8 498,1272.9 499,1273.4 500,1276.5 501,1276.2 502,1276.5 503,1276.2 504,1274.6 505,1276.4 506,1275.8 507,1276.7 508,1276 509,1276.3 510,1274.4 511,1277.1 512,1276.6 513,1276.1 514,1275 515,1276.5 516,1275.6 517,1274.9 518,1276.9 519,1276.7 520,1277.1 521,1277.7 522,1275.6 523,1276.3 524,1274.5 525,1276.6 526,1277.1 527,1275.7 528,1274.2 529,1276.7 530,1275.5 531,1274.7 532,1276.7 533,1275.4 534,1275.6 535,1275.7 536,1274.9 537,1275.2 538,1273.3 539,1272.4 540,1273.1 541,1274.8 542,1273.7 543,1273.7 544,1274.4 545,1275 546,1274.4 547,1275.7 548,1276.2 549,1277.8 550,1274.6 551,1275.3 552,1274.9 553,1275.7 554,1277.5 555,1275 556,1276.3 557,1276 558,1277.5 559,1276.5 560,1278.1 561,1277.6 562,1277.8 563,1277.3 564,1274.9 565,1274.9 566,1278 567,1275.2 568,1274.8 569,1276.8 570,1276.7 571,1275.2 572,1276.1 573,1276 574,1276.2 575,1275.9 576,1275.1 577,1276.9 578,1275.8 579,1277.7 580,1278.1 581,1274.7 582,1277.4 583,1277.2 584,1275.6 585,1276.7 586,1275.6 587,1277.7 588,1275.8 589,1276.9 590,1275.5 591,1277.7 592,1275.4 593,1278 594,1275.1 595,1276 596,1277 597,1275.9 598,1277.3 599,1275.1 600,1278 601,1276.3 602,1277.7 603,1275.1 604,1275.9 605,1276.2 606,1277.8 607,1277.9 608,1275.8 609,1275.7 610,1275.5 611,1274.5 612,1274.7 613,1276.9 614,1274.5 615,1277.1 616,1275.6 617,1274.7 618,1275.1 619,1274.3 620,1276.1 621,1274.7 622,1275.9 623,1275.2 624,1275.8 625,1273.8 626,1276 627,1273.9 628,1274.6 629,1276.4 630,1276.4 631,1274.6 632,1274.1 633,1274.2 634,1274.4 635,1275.3 636,1272.5 637,1271.2 638,1272.8 639,1271.6 640,1271.7 641,1271.1 642,1269.2 643,1269.3 644,1270.4 645,1268.2 646,1267.4 647,1265.6 648,1262.7 649,1259.9 650,1258.7 651,1253.8 652,1250.7 653,1245.9 654,1234.7 655,1226.5 656,1209.9 657,1188.9 658,1155.1 659,1113.4 660,1068.2 661,1041.8 661.2,1040.9 662,1053.8 663,1094.8 664,1141.6 665,1177.4 666,1202.1 667,1220.2 668,1231.8 669,1242.3 670,1250 671,1253 672,1256.1 673,1259.4 674,1262.6 675,1264.2 676,1265.8 677,1267.9 678,1270.4 679,1270.3 680,1270 681,1271.2 682,1270.6 683,1273.8 684,1271.2 685,1273.5 686,1274.6 687,1274.5 688,1272.5 689,1275.4 690,1274.4 691,1275.9 692,1273.6 693,1275.2 694,1277 695,1274.2 696,1277.1 697,1275.8 698,1275.7 699,1274.8 700,1276.1 701,1274.8 702,1274.9 703,1274.7 704,1275.1 705,1276.8 706,1276.1 707,1277.9 708,1275.6 709,1275.8 710,1277.6 711,1277 712,1275.3 713,1277 714,1276 715,1278.5 716,1277.6 717,1277.6 718,1276.3 719,1278.2 720,1278.1 721,1277.6 722,1276.8 723,1278.1 724,1276.7 725,1275.8 726,1276.7 727,1276.6 728,1277.7 729,1276 730,1278.2 731,1276 732,1277.4 733,1276.8 734,1279.1 735,1277.6 736,1276.5 737,1276.5 738,1276.7 739,1277.8 740,1276.8 741,1279.1 742,1278.4 743,1276.3 744,1275.7 745,1275.9 746,1277.2 747,1276.6 748,1277.1 749,1277.1 750,1278.9 751,1276.4 752,1279.2 753,1278.6 754,1279 755,1277.4 756,1277.4 757,1277.5 758,1278.7 759,1277.4 760,1276 761,1276.6 762,1279.1 763,1275.8 764,1277.9 765,1278.7 766,1277.1 767,1277.4 768,1277.5 769,1276 770,1277.3 771,1278.9 772,1277.2 773,1276.5 774,1278.7 775,1278.5 776,1277.8 777,1278 778,1276.6 779,1277.7 780,1278.2 781,1276 782,1276.9 783,1276.6 784,1276.4 785,1277.5 786,1275.7 787,1275.9 788,1277.1 789,1276.6 790,1277.1 791,1275.8 792,1276.1 793,1277.7 794,1276 795,1274.4 796,1276.9 797,1275.4 798,1274.5 799,1273.9 800,1273.3 801,1273 802,1271.5 803,1272.1 804,1272.9 805,1276.3 806,1274.1 807,1275 808,1277.4 809,1275.4 810,1276.9 811,1275.2 812,1275 813,1276.5 814,1277.2 815,1275.2 816,1277.7 817,1276.8 818,1276.7 819,1275.8 820,1274.9 821,1276.2 822,1277 823,1275.6 824,1275.3 825,1276 826,1274 827,1273.7 828,1274.7 829,1274.8 830,1274.2 831,1272.2 832,1272.8 833,1273.4 834,1269.8 835,1271.2 836,1268.3 837,1267.2 838,1261.2 839,1257.2 840,1250.4 841,1243.3 842,1239.5 843,1243.1 844,1250.9 845,1258.8 846,1262.8 847,1265.5 848,1267 849,1271.1 850,1272.6 851,1271.3 852,1272.2 853,1274.9 854,1273.6 855,1273.9 856,1275.2 857,1276.3 858,1274.1 859,1275.9 860,1274.5 861,1276.8 862,1275 863,1276.6 864,1276 865,1276.5 866,1277.6 867,1274.9 868,1277.5 869,1275.9 870,1277 871,1275.8 872,1275.8 873,1275.5 874,1276.4 875,1274.9 876,1276.7 877,1276.6 878,1276.4 879,1274.2 880,1275.6 881,1275.4 882,1275.4 883,1273.4 884,1274.8 885,1274.3 886,1276.5 887,1276.8 888,1275 889,1275.3 890,1275.7 891,1277.5 892,1277.3 893,1278.4 894,1275.9 895,1275.9 896,1276.2 897,1277.3 898,1277.3 899,1277.4 900,1278.5 901,1277.5 902,1276.8 903,1276.8 904,1276.6 905,1276.8 906,1276.3 907,1276.7 908,1277.4 909,1276.4 910,1277.4 911,1278.6 912,1278 913,1276.1 914,1276.4 915,1279.2 916,1276.5 917,1278.9 918,1277.4 919,1277.3 920,1276.2 921,1278 922,1277 923,1276.3 924,1276.4 925,1276.9 926,1277 927,1278.8 928,1279 929,1276.2 930,1277.5 931,1278.4 932,1276.1 933,1278.6 934,1278.9 935,1276.9 936,1277.3 937,1276.5 938,1277.1 939,1276.4 940,1277.7 941,1277.6 942,1277.4 943,1279.1 944,1277.8 945,1278.9 946,1278.7 947,1277.4 948,1276.9 949,1277.3 950,1276.5 951,1278.7 952,1278.8 953,1278.3 954,1277.6 955,1277.1 956,1276.9 957,1277.8 958,1277 959,1277.3 960,1276.2 961,1277.6 962,1275.8 963,1276 964,1276.1 965,1277.3 966,1277.1 967,1277.3 968,1276.1 969,1278.1 970,1276.4 971,1275.4 972,1277 973,1277.8 974,1275.7 975,1276.8 976,1275.8 977,1276.2 978,1276.3 979,1275.2 980,1274.6 981,1273.3 982,1273.1 983,1274.8 984,1274.4 985,1272.9 986,1272.2 987,1271.9 988,1269.7 989,1268.9 990,1267.2 991,1265.5 992,1265 993,1260.5 994,1257.7 995,1250.8 996,1242.3 997,1230.1 998,1217.1 999,1208.9 999.1,1208.8 1000,1214.3 1001,1228.3 1002,1241.6 1003,1248.5 1004,1254.7 1005,1259.1 1006,1261.8 1007,1266.8 1008,1266.6 1009,1267.6 1010,1270.2 1011,1272.1 1012,1271.4 1013,1271.5 1014,1273.5 1015,1274.3 1016,1272.9 1017,1274.7 1018,1274.6 1019,1275.3 1020,1275.6 1021,1274.5 1022,1276.2 1023,1275.8 1024,1276.2 1025,1275.7 1026,1274.5 1027,1276.1 1028,1273.6 1029,1274.6 1030,1274 1031,1272.5 1032,1271.9 1033,1269.5 1034,1268.9 1035,1270.8 1036,1271.5 1037,1272.4 1038,1274.2 1039,1275.4 1040,1275.8 1041,1276.4 1042,1277.2 1043,1277.2 1044,1277.9 1045,1275.8 1046,1276.7 1047,1275.8 1048,1278.4 1049,1278.1 1050,1276.6 1051,1277.1 1052,1278.5 1053,1278.4 1054,1278.3 1055,1277.4 1056,1278.2 1057,1276.7 1058,1278.3 1059,1276.7 1060,1277.1 1061,1278.1 1062,1277.1 1063,1278.9 1064,1277.4 1065,1276.8 1066,1277.6 1067,1278.4 1068,1278.1 1069,1278.1 1070,1277.9 1071,1279.2 1072,1279 1073,1277.1 1074,1279.1 1075,1276.6 1076,1276.8 1077,1276.7 1078,1277.6 1079,1277.6 1080,1276.7 1081,1278.5 1082,1277.3 1083,1278 1084,1277.9 1085,1279 1086,1278.3 1087,1279.3 1088,1277.3 1089,1276.9 1090,1278.8 1091,1278.6 1092,1279.3 1093,1277 1094,1279 1095,1277.6 1096,1276.8 1097,1278.2 1098,1276.8 1099,1278.5 1100,1277.7 1101,1277.6 1102,1279.1 1103,1278.5 1104,1277.3 1105,1278.1 1106,1277.5 1107,1277.9 1108,1276.7 1109,1277.5 1110,1278 1111,1277.6 1112,1279.1 1113,1276.8 1114,1278.4 1115,1278.1 1116,1277.1 1117,1277.1 1118,1278.7 1119,1278.6 1120,1277 1121,1277.7 1122,1276.6 1123,1277.2 1124,1277.9 1125,1277.5 1126,1278.1 1127,1276.8 1128,1277.9 1129,1276.4 1130,1275.7 1131,1277.1 1132,1274.8 1133,1274.3 1134,1275 1135,1274.5 1136,1271.6 1137,1269.4 1138,1268 1139,1266.9 1140,1269.2 1141,1270.5 1142,1272.2 1143,1272.3 1144,1274.1 1145,1274.4 1146,1274.4 1147,1274.7 1148,1277.2 1149,1277.8 1150,1275.7 1151,1277.1 1152,1277.2 1153,1276.6 1154,1276.2 1155,1278.5 1156,1277 1157,1278.3 1158,1277.9 1159,1278.1 1160,1276.2 1161,1276 1162,1276.2 1163,1277.7 1164,1277 1165,1276.5 1166,1276.4 1167,1276.4 1168,1274.4 1169,1274.1 1170,1273.9 1171,1273.6 1172,1271 1173,1272.3 1174,1272.4 1175,1273.5 1176,1274.8 1177,1275.2 1178,1275.2 1179,1276.8 1180,1275.6 1181,1276.1 1182,1277.1 1183,1276.2 1184,1278.5 1185,1277.2 1186,1277 1187,1278.6 1188,1278.2 1189,1276.9 1190,1278.9 1191,1278.1 1192,1278.2 1193,1277 1194,1278.6 1195,1277.8 1196,1278.7 1197,1277.8 1198,1277 1199,1278 1200,1277.6 1201,1277.7 1202,1278.6 1203,1278.6 1204,1278.6 1205,1278.1 1206,1277.1 1207,1277.9 1208,1278.7 1209,1277.8 1210,1278.2 1211,1276.8 1212,1278.6 1213,1276.7 1214,1276.7 1215,1277.6 1216,1278.9 1217,1277.2 1218,1278.1 1219,1277.1 1220,1277.4 1221,1276.9 1222,1276.9 1223,1277.6 1224,1277.7 1225,1278.6 1226,1277.1 1227,1276.5 1228,1277.9 1229,1278.7 1230,1276.9 1231,1276.8 1232,1277.7 1233,1276.9 1234,1277.3 1235,1276.8 1236,1278.4 1237,1277.8 1238,1277.2 1239,1276.5 1240,1276.5 1241,1276.4 1242,1276.5 1243,1276.8 1244,1276.8 1245,1276.2 1246,1275.3 1247,1276.5 1248,1275.3 1249,1276.6 1250,1275.4 1251,1275.7 1252,1275 1253,1273.8 1254,1273.7 1255,1275 1256,1273.4 1257,1271.7 1258,1273.1 1259,1272 1260,1270.9 1261,1268.3 1262,1267.9 1263,1266.1 1264,1262.2 1265,1259.8 1266,1256.3 1267,1250 1268,1241.5 1269,1228.7 1270,1214.1 1271,1201.9 1271.4,1200.5 1272,1203.3 1273,1217.5 1274,1231.9 1275,1244.4 1276,1250.4 1277,1256.5 1278,1261.6 1279,1264.6 1280,1265.6 1281,1268.3 1282,1268.5 1283,1270.5 1284,1272.2 1285,1272.4 1286,1273.7 1287,1274.1 1288,1273.6 1289,1275.6 1290,1273.9 1291,1276.3 1292,1274.4 1293,1275.4 1294,1275.9 1295,1276.4 1296,1275.8 1297,1275.4 1298,1276.2 1299,1275.9 1300,1276.4 1301,1277.6 1302,1277.2 1303,1277.1 1304,1276.9 1305,1277.4 1306,1276.9 1307,1276.5 1308,1277.2 1309,1278.2 1310,1276.5 1311,1277.8 1312,1277.5 1313,1277.3 1314,1278.1 1315,1277.3 1316,1276.8 1317,1277.5 1318,1278.5 1319,1277.3 1320,1277.6 1321,1278.6 1322,1279 1323,1278.2 1324,1277.9 1325,1277 1326,1277.4 1327,1278.8 1328,1277.2 1329,1279 1330,1278.2 1331,1277.4 1332,1277.7 1333,1278.2 1334,1277.6 1335,1278.2 1336,1278.5 1337,1277.1 1338,1279.2 1339,1278.6 1340,1277.3 1341,1279.1 1342,1279.1 1343,1278.5 1344,1278.3 1345,1277.5 1346,1277.6 1347,1278.6 1348,1277.8 1349,1278.8 1350,1278.6 1351,1277.2 1352,1277.6 1353,1277.7 1354,1278 1355,1277.6 1356,1279 1357,1279.3 1358,1278.4 1359,1277.6 1360,1277.3 1361,1277.8 1362,1278.3 1363,1278.9 1364,1278.4 1365,1277.7 1366,1279 1367,1278.8 1368,1277.7 1369,1278.6 1370,1279 1371,1277.8 1372,1278.1 1373,1278.3 1374,1278.4 1375,1278.1 1376,1277.5 1377,1278.4 1378,1279.2 1379,1279.2 1380,1277.8 1381,1277.5 1382,1279.2 1383,1277.3 1384,1277.5 1385,1277.8 1386,1278.5 1387,1277.6 1388,1277.7 1389,1278.9 1390,1278.8 1391,1277.5 1392,1278.5 1393,1277.6 1394,1279.3 1395,1277.7 1396,1279.2 1397,1278.6 1398,1279.1 1399,1278.9 1400,1277.5 1401,1277.9 1402,1277.5 1403,1277.5 1404,1277.9 1405,1278.2 1406,1277.6 1407,1278.1 1408,1277.7 1409,1277.6 1410,1277.5 1411,1277.1 1412,1278 1413,1277.5 1414,1276.1 1415,1276.6 1416,1275.9 1417,1276.9 1418,1275.3 1419,1275.8 1420,1276.4 1421,1276.4 1422,1275.3 1423,1275.5 1424,1275.1 1425,1276 1426,1275.8 1427,1276 1428,1277.4 1429,1276.6 1430,1276.8 1431,1276.3 1432,1277 1433,1278.3 1434,1277.3 1435,1278.4 1436,1277.9 1437,1278.2 1438,1276.8 1439,1277.3 1440,1277.2 1441,1278.1 1442,1278.1 1443,1277.9 1444,1278.2 1445,1277.9 1446,1278.1 1447,1278.4 1448,1278.9 1449,1278 1450,1279.1 1451,1277.1 1452,1278.6 1453,1278.5 1454,1277.3 1455,1277.2 1456,1278.9 1457,1277.4 1458,1277.9 1459,1278.9 1460,1277.2 1461,1277.4 1462,1277.2 1463,1278.6 1464,1278.9 1465,1277.5 1466,1278.2 1467,1278.9 1468,1277.2 1469,1278.9 1470,1278.2 1471,1278.1 1472,1277.3 1473,1277.7 1474,1278.4 1475,1278.2 1476,1276.8 1477,1276.9 1478,1278.6 1479,1277.4 1480,1278.2 1481,1276.7 1482,1277.1 1483,1278 1484,1277.1 1485,1276.5 1486,1276.3 1487,1276.9 1488,1278.1 1489,1276.5 1490,1276 1491,1277.4 1492,1275.5 1493,1277.1 1494,1276.5 1495,1275 1496,1275.5 1497,1275.5 1498,1274.9 1499,1274.7 1500,1273.7 1501,1273.3 1502,1271.7 1503,1269.8 1504,1267.6 1505,1266.1 1506,1262.1 1507,1259.6 1508,1254.6 1509,1250.3 1509.7,1249.5 1510,1249.7 1511,1252.4 1512,1257.5 1513,1262.3 1514,1264.5 1515,1268.7 1516,1270.3 1517,1270.1 1518,1272.9 1519,1273.5 1520,1273.1 1521,1274.8 1522,1273.9 1523,1275.4 1524,1275.6 1525,1275.3 1526,1276.6 1527,1276.9 1528,1277.3 1529,1276.5 1530,1277.2 1531,1276.8 1532,1276.9 1533,1277.5 1534,1277.5 1535,1276.7 1536,1278.2 1537,1278.2 1538,1277.3 1539,1278.9 1540,1277.7 1541,1278.4 1542,1277.9 1543,1278.8 1544,1278.3 1545,1277.4 1546,1279.2 1547,1277.3 1548,1278.3 1549,1278.2 1550,1279.1 1551,1279.2 1552,1277.5 1553,1277.6 1554,1279 1555,1277.3 1556,1277.5 1557,1278.8 1558,1279.1 1559,1277.8 1560,1279.1 1561,1278.5 1562,1277.7 1563,1278.5 1564,1278.8 1565,1277.6 1566,1279.6 1567,1278.1 1568,1277.6 1569,1277.5 1570,1279.5 1571,1278.5 1572,1278.9 1573,1279.2 1574,1279.2 1575,1279.1 1576,1277.6 1577,1279.3 1578,1279.1 1579,1278 1580,1279.1 1581,1278.1 1582,1278.2 1583,1278.5 1584,1279.1 1585,1277.8 1586,1277.7 1587,1278.7 1588,1278.3 1589,1278.7 1590,1278.8 1591,1278.6 1592,1278.7 1593,1279.3 1594,1278.3 1595,1279 1596,1279.6 1597,1278.6 1598,1278.1 1599,1278.7 1600,1279 1601,1278.9 1602,1277.7 1603,1277.6 1604,1278.7 1605,1278.4 1606,1277.7 1607,1278.1 1608,1279.4 1609,1277.4 1610,1279.4 1611,1278.4 1612,1279.3 1613,1277.3 1614,1277.1 1615,1277.7 1616,1277.1 1617,1278.6 1618,1277.5 1619,1277.3 1620,1276.4 1621,1274.9 1622,1274.6 1623,1275 1624,1273.3 1625,1272.7 1626,1273.9 1627,1274.6 1628,1276.1 1629,1276.9 1630,1275.9 1631,1276.9 1632,1277.6 1633,1278.8 1634,1278.3 1635,1277.7 1636,1277.5 1637,1277.9 1638,1277.2 1639,1279.2 1640,1277.2 1641,1278.9 1642,1277.2 1643,1278.8 1644,1278.3 1645,1278.6 1646,1277.2 1647,1276.9 1648,1276.3 1649,1275.7 1650,1276.5 1651,1276.1 1652,1276 1653,1277.6 1654,1277.8 1655,1276.8 1656,1277.9 1657,1279.3 1658,1278.4 1659,1277.6 1660,1278 1661,1277.8 1662,1279 1663,1279.2 1664,1277.5 1665,1279.6 1666,1279 1667,1278.7 1668,1278 1669,1277.8 1670,1279.6 1671,1279.5 1672,1277.9 1673,1277.8 1674,1277.9 1675,1279.5 1676,1278.9 1677,1278.4 1678,1278.7 1679,1278.4 1680,1278.7 1681,1278.5 1682,1278.8 1683,1277.5 1684,1279.1 1685,1279 1686,1278.3 1687,1278.6 1688,1278.1 1689,1279.6 1690,1279.1 1691,1278.6 1692,1277.4 1693,1278.9 1694,1277.9 1695,1279.2 1696,1277.4 1697,1278.8 1698,1278 1699,1278.5 1700,1277.4 1701,1278 1702,1279.2 1703,1278.9 1704,1279.1 1705,1278.1 1706,1279 1707,1278.7 1708,1278.7 1709,1277.2 1710,1277.2 1711,1277.5 1712,1277.1 1713,1276.4 1714,1278.3 1715,1276.7 1716,1277.7 1717,1277.6 1718,1275.5 1719,1276.4 1720,1276.4 1721,1275.2 1722,1275.9 1723,1274.7 1724,1274 1725,1272.4 1726,1273.6 1727,1270.8 1728,1270.1 1729,1267.2 1730,1264.1 1731,1262 1732,1257.6 1733,1253.6 1733.9,1252 1734,1252 1735,1254.1 1736,1257.9 1737,1263.4 1738,1266.1 1739,1268 1740,1269.3 1741,1271.9 1742,1272.4 1743,1274.3 1744,1274.7 1745,1275.5 1746,1275.9 1747,1275.1 1748,1275.4 1749,1277.3 1750,1276 1751,1276.9 1752,1276.3 1753,1277.2 1754,1277 1755,1277.3 1756,1277.7 1757,1277.3 1758,1277.2 1759,1277 1760,1277.8 1761,1278.6 1762,1277.9 1763,1278.1 1764,1278.9 1765,1278.2 1766,1279.3 1767,1278.6 1768,1278.5 1769,1277.9 1770,1278.3 1771,1278.5 1772,1278.2 1773,1277.9 1774,1277.9 1775,1278.8 1776,1279.4 1777,1278.5 1778,1278.9 1779,1278.2 1780,1279.8 1781,1278.6 1782,1279.6 1783,1278.8 1784,1279.1 1785,1278.1 1786,1277.7 1787,1279.5 1788,1278.7 1789,1279.2 1790,1278.5 1791,1278.3 1792,1279.4 1793,1278.2 1794,1279.6 1795,1279.5 1796,1279.5 1797,1279.4 1798,1279 1799,1277.8 1800,1277.9 1801,1279.1 1802,1279.4 1803,1279.7 1804,1278.1 1805,1279.7 1806,1279.8 1807,1279.7 1808,1278.5 1809,1278.3 1810,1278.5 1811,1279.9 1812,1278.5 1813,1278.6 1814,1280 1815,1278.8 1816,1279 1817,1279 1818,1279 1819,1279" stroke="#000000" stroke-width="8.6"/>
</g>
<g id="right-curves">
<polyline points="1898.9,450.3 1912.7,450.1 1920.2,450.3 1929,445.3 1934,450.8 1939.1,447 1947.9,446.5 1956.7,450.1 1961.7,446.3 1971.7,449.6 1980.5,449.6 1988.1,443.8 1994.4,447 1998.1,445 2005.7,445.8 2013.2,447.8 2023.3,442.5 2030.8,447 2034.6,441.5 2038.3,444.5 2047.1,439 2057.2,444.5 2062.2,435.7 2069.8,433.2 2077.3,437 2084.8,434 2089.9,436.5 2093.6,426.9 2102.4,417.4 2107.5,419.4 2112.5,409.8 2116.3,416.9 2122.5,415.6 2131.3,418.6 2135.1,415.6 2143.9,400.5 2151.5,399.3 2159,399.3 2162.8,396.8 2170.3,374.6 2179.1,376.2 2185.4,361.6 2190.4,359.1 2194.2,344 2199.2,343.2 2203,355.8 2206.7,340.2 2213,333.2 2216.8,345.2 2221.8,349 2226.4,361.6 2230.6,362.3 2235.7,369.1 2240.7,382.4 2248.2,393.5 2253.2,386.7 2257,394.3 2262,410.6 2268.3,408.6 2279.6,417.6 2285.9,419.4 2298.5,433.2 2303.5,432.5 2307.3,437.5 2312.3,433.2 2321.1,438.2 2326.1,438.2 2334.9,444 2350,445.8 2362.6,443.3 2368.9,448.3 2376.4,445 2387.7,450.1 2394,447 2401.5,451.6 2407.8,452.6 2412.9,447.8 2417.9,450.1 2422.9,448.3 2430.4,450.8 2436.7,448.3 2444.3,448.8 2449.3,452.6 2455.6,450.1 2466.9,450.3" stroke="#000080" stroke-width="7.0"/>
<polyline points="1898.9,566.4 1907.6,566.9 1917.7,565.2 1925.2,569.4 1937.8,562.2 1944.1,566.4 1952.9,563.4 1961.7,566.4 1966.7,563.9 1975.5,568.4 1980.5,565.2 1993.1,561.4 1998.1,562.7 2003.2,557.6 2008.2,563.9 2020.8,558.9 2025.8,562.7 2035.8,557.6 2043.4,555.1 2049.7,561.4 2055.9,558.9 2062.2,555.1 2068.5,553.9 2077.3,547.6 2084.8,548.8 2088.6,540 2093.6,543.3 2106.2,536.3 2112.5,523.7 2121.3,517.4 2126.3,516.7 2131.3,509.9 2138.9,506.9 2147.2,505.6 2148.9,493.5 2155.2,481 2159,491 2165.3,475.9 2171.6,471.4 2175.3,450.8 2180.4,442 2185.4,449.6 2190.4,450.3 2194.2,432 2200.5,437 2203,452.1 2206.7,438.2 2211.8,460.9 2218.1,463.4 2221.8,478.5 2230.6,481 2234.4,496 2240.7,494.8 2245.7,501.1 2248.2,514.9 2257,526.2 2263.3,522.4 2270.8,537.5 2277.1,538.8 2279.6,543.8 2284.7,541.3 2289.7,551.3 2297.2,551.3 2304.8,555.1 2317.3,556.4 2322.4,562.7 2329.9,556.4 2334.9,561.4 2340,560.1 2347.5,562.7 2356.3,562.7 2362.6,567.7 2371.4,562.7 2380.2,562.7 2389,565.9 2405.3,566.9 2412.9,563.9 2420.4,565.2 2425.4,567.7 2431.7,563.9 2438,565.7 2444.3,564.7 2449.3,567.2 2458.1,565.7 2466.9,566.4" stroke="#008000" stroke-width="7.0"/>
<polyline points="1898.9,714.6 1912.7,712.9 1916.4,715.4 1921.5,710.9 1926.5,715.4 1934,710.9 1939.1,715.4 1947.9,708.4 1952.9,713.6 1966.7,711.6 1970.5,705.9 1978,710.4 1985.6,712.1 1999.4,707.1 2008.2,706.6 2015.7,710.4 2020.8,703.6 2027,704.6 2034.6,699.6 2039.6,706.1 2043.4,695.8 2049.7,702.8 2053.4,701.6 2059.7,692.8 2067.3,692.8 2072.3,682.7 2076,681.5 2081.1,690.3 2091.1,677.2 2097.4,658.9 2103.7,660.6 2110,653.1 2112.5,639.8 2116.3,650.6 2121.3,634.3 2126.3,638.8 2138.9,620.5 2142.7,596.6 2147.7,589 2155.2,586.5 2159,567.7 2162.8,566.4 2166.5,576.5 2171.6,547.6 2184.1,561.4 2189.2,572.7 2195.4,571.5 2198,581.5 2203,610.4 2208,604.1 2214.3,614.2 2218.1,635.5 2231.9,653.8 2238.2,661.4 2245.7,677.7 2262,694 2268.3,692.8 2277.1,694 2282.2,701.6 2294.7,702.3 2303.5,707.4 2308.5,702.3 2317.3,709.1 2322.4,705.3 2326.1,711.6 2334.9,707.9 2347.5,712.9 2358.8,709.9 2367.6,714.6 2371.4,710.4 2380.2,711.6 2386.5,710.4 2394,716.7 2400.3,712.9 2410.3,714.1 2420.4,716.7 2427.9,715.9 2435.5,712.9 2444.3,717.4 2449.3,714.1 2455.6,716.7 2466.9,715.4" stroke="#ff00ff" stroke-width="7.0"/>
<polyline points="1898.9,885.1 1906.4,883.8 1911.4,887.6 1916.9,879.3 1921.5,883.8 1934,885.6 1944.1,881.8 1955.4,885.1 1965.5,881.8 1973,885.6 1983.1,879.3 1994.4,883.1 2001.9,876.8 2006.9,882.5 2017,878.3 2020.8,880 2027,875.8 2034.6,876.8 2039.6,880 2044.6,870.7 2052.2,870.7 2058.5,866.2 2064.7,865 2071,857.4 2077.3,860.4 2088.6,842.3 2093.6,844.8 2098.7,834.8 2105,829.8 2112.5,817.2 2116.3,800.9 2121.3,797.6 2126.3,799.6 2130.1,783.3 2136.4,779.5 2140.1,770.7 2143.9,740.5 2148.2,720.4 2155.2,715.4 2161.5,704.1 2167.8,704.6 2171.6,694 2175.3,715.4 2180.4,725.5 2185.4,710.4 2189.2,725.5 2198,750.6 2203,770.7 2206.7,795.8 2213,790.8 2216.8,808.4 2220.6,824.7 2225.6,831 2230.6,832.3 2240.7,856.7 2248.2,854.9 2253.2,865 2259.5,862.4 2267.1,865 2272.1,873.8 2284.7,871.2 2289.7,877.5 2296,873.8 2307.3,881.3 2312.3,876.3 2322.4,880.8 2327.4,881.3 2332.4,883.8 2340,882.5 2343.7,887.6 2348.8,881.3 2353.8,884.3 2358.8,882.5 2367.6,885.1 2376.4,880.8 2381.4,887.6 2386.5,883.8 2402.8,885.1 2409.1,887.6 2425.4,882.5 2433,886.3 2440.5,885.1 2449.3,888.1 2458.1,885.1 2466.9,885.1" stroke="#0000ff" stroke-width="7.0"/>
<polyline points="1898.9,1080.5 1907.6,1080.5 1917.7,1082.5 1926.5,1075.5 1931.5,1075.5 1939.1,1081.8 1944.1,1077.5 1956.7,1074.3 1966.7,1078.8 1970.5,1074.3 1976.8,1078 1988.1,1075.5 1995.6,1070.5 2003.2,1075 2010.7,1073.5 2017,1068.7 2022,1072.5 2025.8,1068 2034.6,1070.5 2040.9,1066.7 2047.1,1066.7 2053.4,1057.4 2061,1059.2 2066,1054.1 2071,1056.7 2079.8,1045.3 2084.8,1042.8 2088.6,1036.6 2094.9,1037.8 2102.4,1011.4 2108.7,1012.7 2115,976.8 2122.5,960.5 2128.8,944.1 2135.1,931.6 2138.9,911.5 2142.7,891.3 2146.4,861.2 2151.5,856.2 2157.7,858.7 2162.8,852.4 2166.5,841.1 2171.6,848.6 2175.3,872.5 2180.4,865 2184.1,878.8 2190.4,914 2194.2,927.8 2199.2,939.1 2203,964.2 2209.3,979.3 2215.5,1004.4 2223.1,1030.3 2229.4,1046.6 2235.7,1043.3 2241.9,1050.9 2249.5,1054.1 2253.2,1060.9 2259.5,1059.2 2269.6,1066 2277.1,1068 2280.9,1073.5 2285.9,1066.7 2289.7,1073 2297.2,1071 2304.8,1071 2309.8,1074.8 2317.3,1072.5 2329.9,1078 2340,1073 2345,1076.3 2357.6,1076.8 2365.1,1079.3 2376.4,1076.8 2382.7,1079.3 2395.3,1078.5 2404.1,1081.8 2410.3,1079.8 2424.2,1079.8 2431.7,1076.3 2436.7,1080.5 2443,1082.3 2449.3,1078.8 2466.9,1080.5" stroke="#ff0000" stroke-width="7.0"/>
<polyline points="1902.1,1277.3 1921.5,1277.3 1930.3,1274.1 1939.1,1275.3 1944.1,1277.8 1949.1,1274.1 1955.4,1276.1 1962.9,1274.1 1970.5,1274.6 1978,1272.8 1985.6,1274.6 1993.1,1271.1 2003.2,1270.3 2008.2,1274.1 2015.7,1267.8 2024.5,1266 2030.8,1269.5 2035.8,1264 2040.9,1264.5 2048.4,1258.5 2052.2,1258.5 2057.2,1252.7 2063,1258.5 2067.3,1252.7 2072.3,1241.4 2077.3,1235.1 2081.1,1241.4 2084.8,1236.4 2088.6,1222.5 2096.2,1210 2099.9,1206.2 2102.4,1187.4 2108.7,1190.6 2112.5,1179.8 2116.3,1155.9 2120,1139.6 2126.3,1125.8 2130.1,1108.2 2135.1,1080.5 2140.1,1080.5 2142.7,1055.4 2143.9,1044.1 2148.2,1052.9 2154.7,1042.8 2159,1055.4 2164,1074.3 2167.8,1094.4 2171.6,1113.2 2176.6,1130.8 2179.1,1155.9 2185.4,1169.8 2190.4,1186.1 2194.2,1202.4 2198,1216.3 2206.7,1226.3 2211.8,1238.9 2216.8,1246.4 2221.8,1250.2 2226.4,1245.2 2229.4,1252.7 2234.4,1256.5 2241.9,1256.5 2248.2,1269 2253.2,1261.5 2259.5,1261.5 2268.3,1271.6 2276.6,1265.3 2282.2,1272.8 2288.4,1271.6 2294.7,1274.1 2299.7,1270.3 2307.3,1276.1 2312.3,1272.1 2319.9,1274.1 2326.1,1270.3 2331.2,1277.8 2336.2,1272.8 2345,1277.3 2350,1271.6 2352.5,1277.3 2367.6,1275.3 2385.2,1277.8 2389,1279.6 2404.1,1275.3 2410.3,1279.1 2417.9,1274.6 2421.6,1279.6 2433,1279.1 2440.5,1276.1 2448,1276.6 2463.1,1279.1" stroke="#000000" stroke-width="7.0"/>
</g>
<path d="M2151.55,1317 V373.5" stroke="#000" stroke-width="6.9" fill="none"/><polygon points="2148.2,335 2154.9,335 2163.1,370 2163.1,376.6 2138.9,376.6 2138.9,370.4" fill="#000"/>
<g id="labels"><text transform="translate(96.66,1407.00) scale(1.0882,1)" font-size="59.0" style="font-weight:bold">10</text>
<text transform="translate(338.74,1407.00) scale(1.0851,1)" font-size="59.0" style="font-weight:bold">20</text>
<text transform="translate(579.49,1407.00) scale(1.0851,1)" font-size="59.0" style="font-weight:bold">30</text>
<text transform="translate(822.97,1407.00) scale(1.0740,1)" font-size="59.0" style="font-weight:bold">40</text>
<text transform="translate(1061.99,1407.00) scale(1.0851,1)" font-size="59.0" style="font-weight:bold">50</text>
<text transform="translate(1304.15,1407.00) scale(1.0734,1)" font-size="59.0" style="font-weight:bold">60</text>
<text transform="translate(1543.12,1407.00) scale(1.1092,1)" font-size="59.0" style="font-weight:bold">70</text>
<text transform="translate(1786.82,1407.00) scale(1.0643,1)" font-size="59.0" style="font-weight:bold">80</text>
<text transform="translate(1866.57,1408.70) scale(1.0076,1)" font-size="59.0" style="font-weight:bold">31</text>
<text transform="translate(2094.16,1408.70) scale(1.0556,1)" font-size="59.0" style="font-weight:bold">32</text>
<text transform="translate(2322.39,1408.70) scale(1.0443,1)" font-size="59.0" style="font-weight:bold">33</text>
<text transform="translate(738.01,1508.00) scale(1.0565,1)" font-size="70.8" style="font-weight:bold">2Theta(degree)</text>
<text transform="translate(158.80,389.60) scale(1.0192,1)" font-size="58.7" style="font-weight:bold">x=0.5</text>
<text transform="translate(156.70,519.30) scale(1.0110,1)" font-size="58.7" style="font-weight:bold">x=0.4</text>
<text transform="translate(158.80,661.70) scale(1.0132,1)" font-size="58.7" style="font-weight:bold">x=0.3</text>
<text transform="translate(158.80,835.70) scale(1.0177,1)" font-size="58.7" style="font-weight:bold">x=0.2</text>
<text transform="translate(164.70,1034.50) scale(0.9929,1)" font-size="58.7" style="font-weight:bold">x=0.1</text>
<text transform="translate(166.80,1239.50) scale(1.0400,1)" font-size="58.7" style="font-weight:bold">x=0</text>
<text transform="translate(890.92,156.30) scale(1.0606,1)" font-size="88.7" style="font-weight:bold">La</text>
<text transform="translate(999.33,183.20) scale(1.0049,1)" font-size="68.0" style="font-weight:bold">1-</text>
<text transform="translate(1053.80,184.40) scale(1.1631,1)" font-size="68.6" style="font-weight:bold;font-style:italic">x</text>
<text transform="translate(1090.08,156.30) scale(1.0428,1)" font-size="88.7" style="font-weight:bold">Sm</text>
<text transform="translate(1218.09,184.20) scale(1.1449,1)" font-size="68.6" style="font-weight:bold;font-style:italic">x</text>
<text transform="translate(1254.19,156.30) scale(1.0755,1)" font-size="88.7" style="font-weight:bold">FeO</text>
<text transform="translate(1422.62,177.50) scale(1.0785,1)" font-size="69.0" style="font-weight:bold">3</text>
<text transform="translate(69.40,848.03) rotate(-90) scale(0.9722,1)" font-size="73.0" style="font-weight:bold">Intensity(a.u)</text>
<text transform="translate(450.00,399.71) rotate(-90) scale(1.0221,1)" font-size="46.8" style="font-weight:bold">(101)</text>
<text transform="translate(675.00,297.82) rotate(-90) scale(1.0273,1)" font-size="46.8" style="font-weight:bold">(121)</text>
<text transform="translate(866.10,405.03) rotate(-90) scale(1.0304,1)" font-size="46.8" style="font-weight:bold">(220)</text>
<text transform="translate(1017.20,383.12) rotate(-90) scale(1.0263,1)" font-size="46.8" style="font-weight:bold">(202)</text>
<text transform="translate(1292.00,389.62) rotate(-90) scale(1.0242,1)" font-size="46.8" style="font-weight:bold">(240)</text>
<text transform="translate(1539.80,410.72) rotate(-90) scale(1.0232,1)" font-size="46.8" style="font-weight:bold">(242)</text>
<text transform="translate(1757.70,415.93) rotate(-90) scale(1.0293,1)" font-size="46.8" style="font-weight:bold">(204)</text>
<text transform="translate(2229.20,301.73) rotate(-90) scale(1.0324,1)" font-size="46.8" style="font-weight:bold">(121)</text></g>
</svg></body></html>
